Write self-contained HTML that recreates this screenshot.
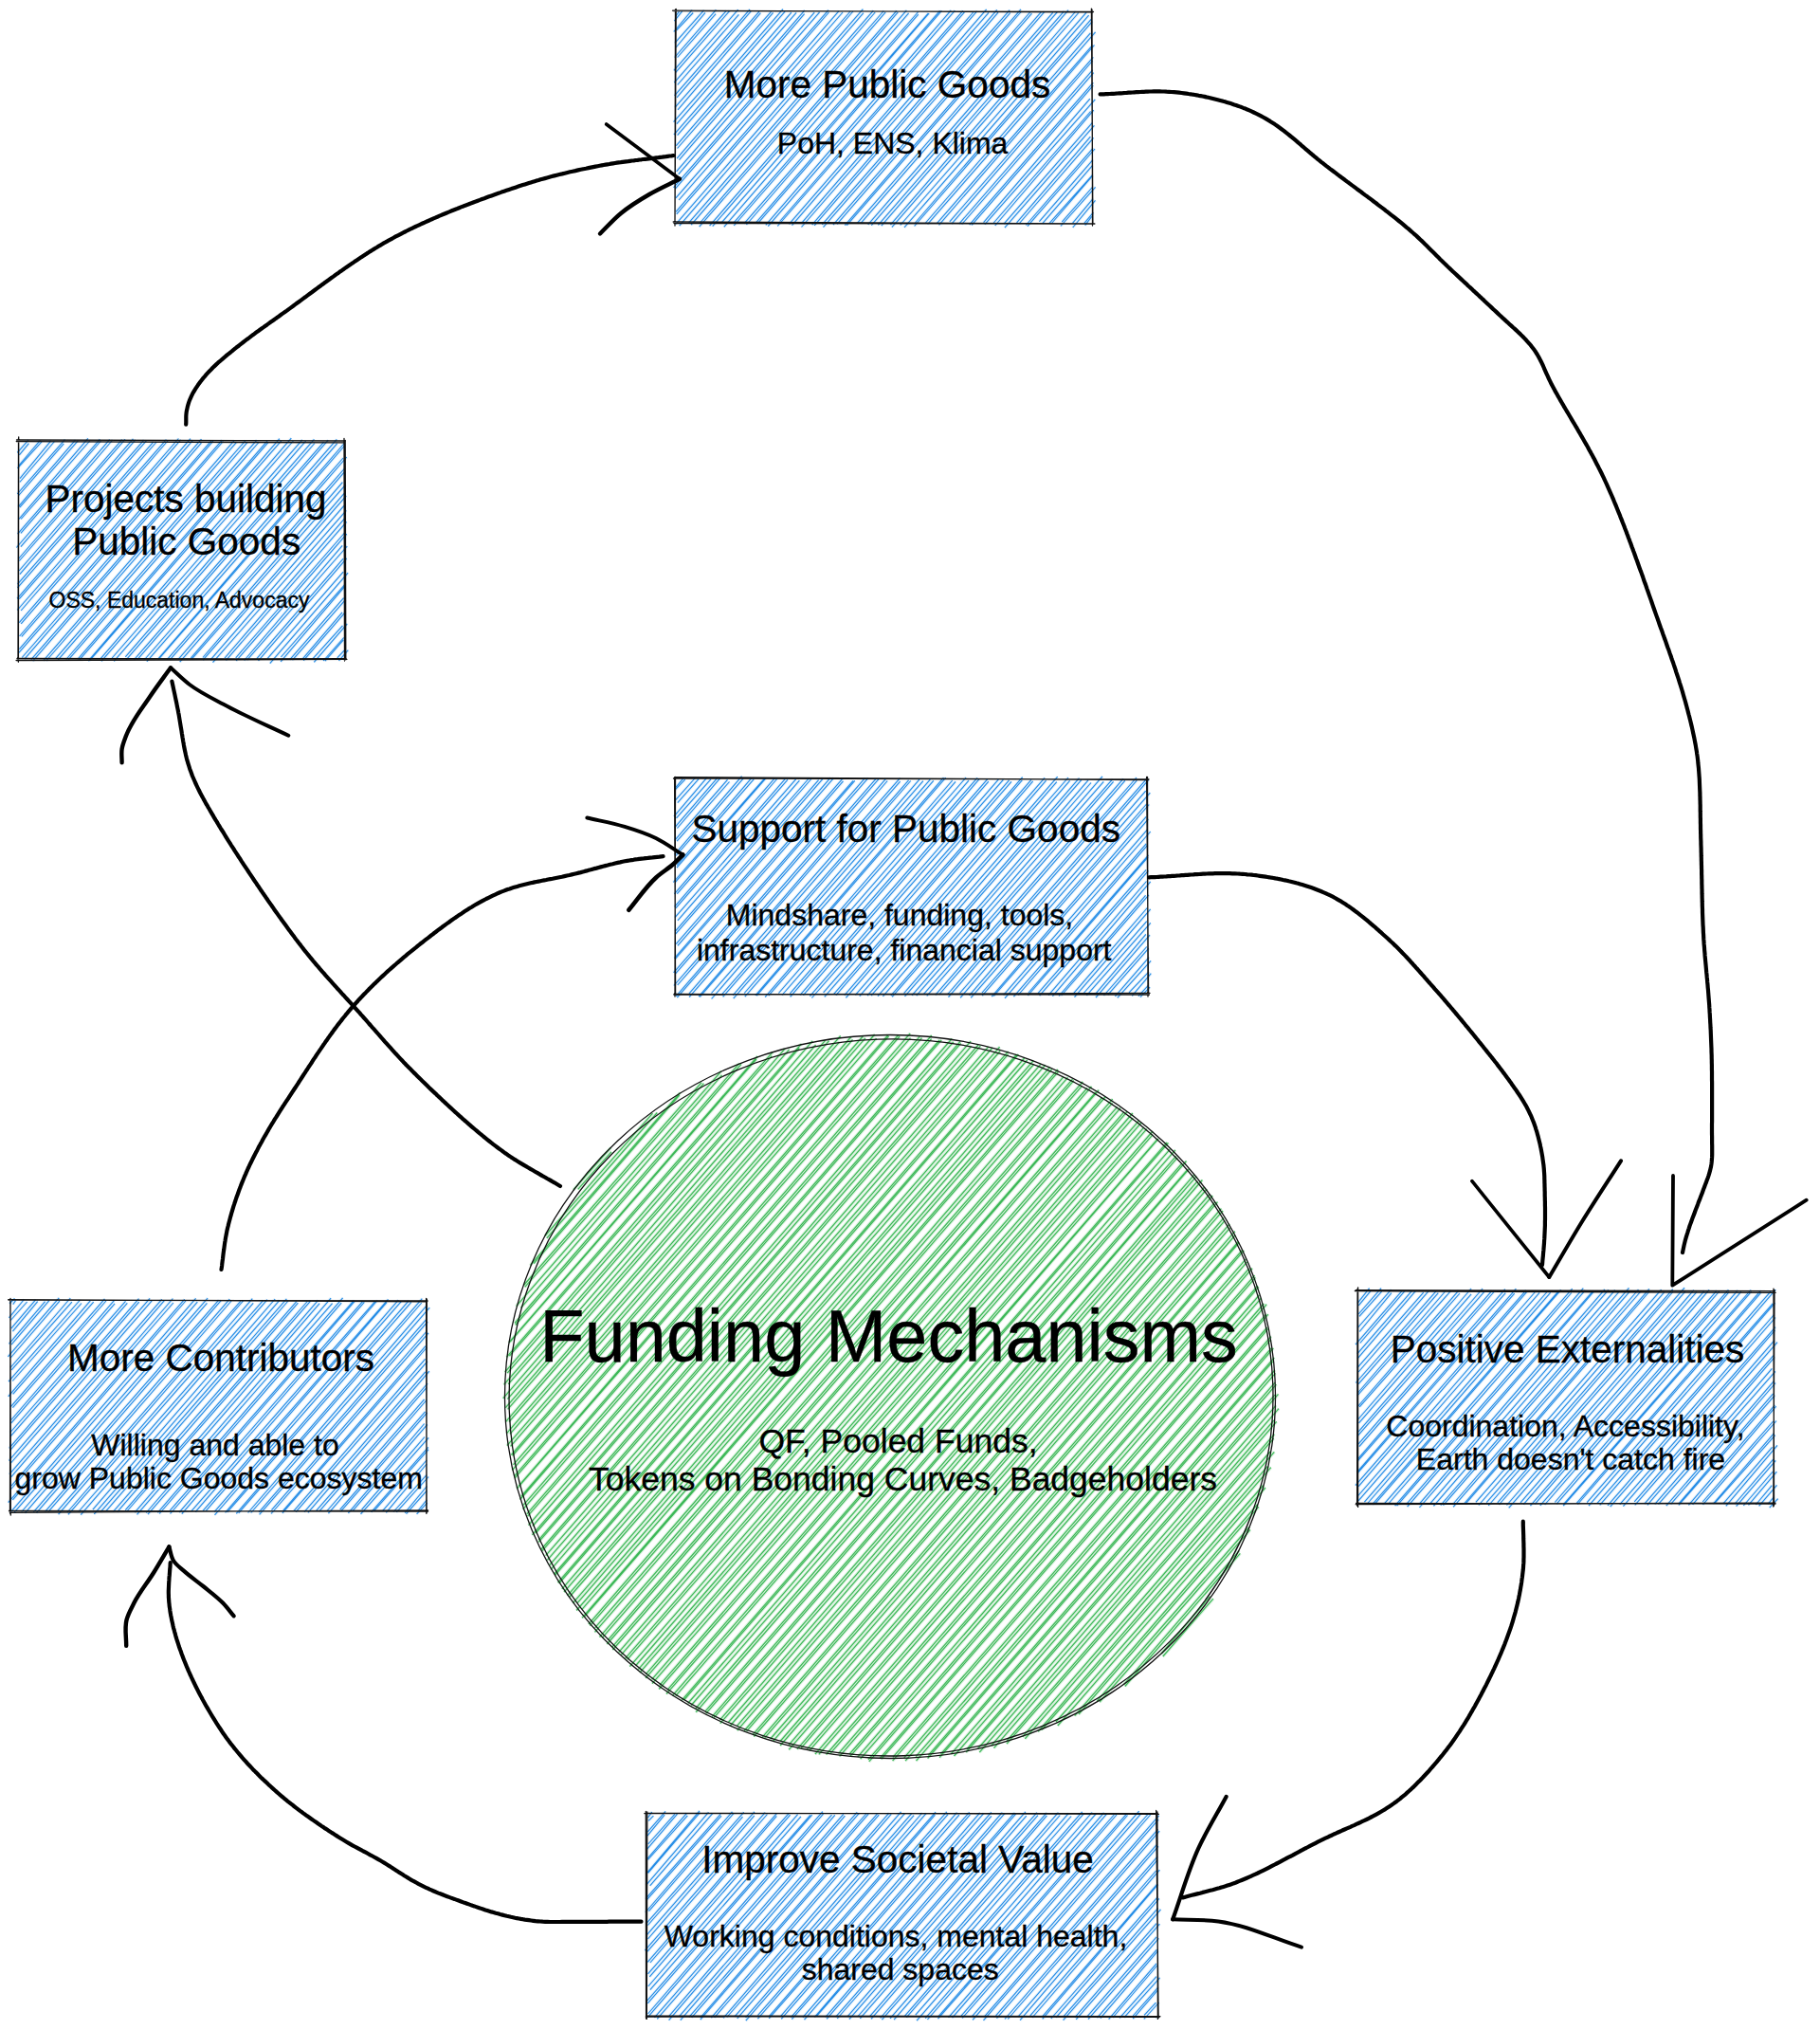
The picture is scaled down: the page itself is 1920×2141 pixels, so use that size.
<!DOCTYPE html><html><head><meta charset="utf-8"><style>html,body{margin:0;padding:0;background:#fff;}svg{display:block}</style></head><body>
<svg width="1920" height="2141" viewBox="0 0 1920 2141">
<rect width="1920" height="2141" fill="#fff"/>
<path fill="none" stroke="#3cb857" stroke-opacity="0.2" stroke-width="3.4" d="M604.9 1254.9L644.4 1210.4M609.7 1254.4L645.0 1214.8M574.9 1303.5L688.5 1174.1M576.8 1305.9L693.3 1173.5M559.4 1334.5L717.5 1152.4M563.1 1332.6L716.9 1154.9M552.5 1355.5L740.1 1141.6M553.7 1357.4L742.4 1142.7M544.6 1377.7L761.0 1129.6M549.5 1379.4L761.6 1133.9M543.0 1395.5L779.8 1121.6M543.7 1397.5L781.9 1122.3M536.9 1416.0L799.2 1114.0M538.2 1415.1L798.0 1117.1M534.4 1431.4L815.3 1109.3M537.4 1430.1L814.2 1113.6M532.7 1447.1L828.0 1106.1M535.2 1448.2L832.6 1106.8M531.6 1460.4L845.5 1100.8M536.2 1459.9L843.2 1105.4M530.7 1474.8L857.2 1097.9M535.4 1475.7L860.6 1102.0M533.4 1484.7L870.6 1097.4M535.6 1486.4L874.6 1097.6M533.7 1499.3L886.7 1092.5M537.0 1499.5L885.6 1098.8M534.4 1511.8L897.9 1093.5M538.0 1512.4L899.5 1096.5M534.9 1524.7L910.3 1093.0M538.6 1525.3L912.9 1094.9M539.4 1534.5L922.7 1091.0M540.6 1535.3L924.6 1095.1M541.5 1544.8L937.1 1091.4M540.3 1550.6L937.6 1092.8M542.6 1556.9L947.5 1091.9M543.1 1558.8L949.1 1093.0M547.2 1567.2L960.2 1089.8M545.2 1570.2L960.5 1094.6M549.9 1578.1L970.2 1093.4M548.6 1581.5L972.5 1094.7M552.2 1587.4L982.8 1092.0M551.7 1591.9L982.6 1095.7M555.8 1596.9L991.1 1097.0M556.6 1599.2L993.2 1096.8M557.5 1608.6L1004.2 1095.5M561.9 1609.5L1005.8 1098.8M561.4 1618.9L1013.1 1098.4M565.1 1617.0L1013.6 1100.4M568.3 1624.1L1024.1 1098.1M568.2 1626.4L1024.7 1103.4M571.1 1634.0L1032.1 1102.0M572.0 1635.6L1034.3 1103.1M575.7 1640.7L1042.7 1104.2M577.4 1645.3L1047.0 1105.0M579.6 1650.8L1054.6 1104.2M581.1 1655.3L1055.1 1108.5M584.8 1660.0L1063.6 1108.9M585.3 1661.6L1063.6 1111.9M588.5 1669.1L1072.4 1112.2M589.7 1670.0L1074.3 1112.0M592.9 1675.9L1080.6 1116.0M595.0 1679.2L1083.7 1118.0M598.6 1682.9L1090.2 1118.7M600.5 1684.5L1090.6 1122.5M604.3 1690.8L1097.9 1122.3M609.1 1690.6L1102.7 1123.1M608.2 1698.5L1107.6 1125.4M614.2 1697.2L1109.8 1127.4M614.0 1706.3L1116.1 1127.8M616.7 1704.8L1116.4 1130.4M620.9 1713.2L1121.8 1135.9M622.4 1714.7L1126.5 1136.3M627.6 1716.9L1131.5 1138.2M627.5 1721.3L1132.8 1139.7M632.5 1726.6L1142.3 1140.9M635.3 1727.3L1141.4 1145.4M641.2 1729.9L1147.0 1147.5M640.4 1734.0L1151.5 1145.9M646.0 1736.8L1156.0 1151.9M646.4 1740.0L1159.2 1149.6M652.7 1742.7L1162.8 1157.5M655.3 1745.3L1165.9 1157.0M659.6 1749.1L1173.7 1159.2M661.7 1750.4L1173.5 1163.3M664.4 1757.7L1178.7 1167.3M670.8 1756.5L1182.0 1168.6M673.4 1760.7L1185.8 1172.8M674.9 1764.2L1189.3 1172.1M681.3 1765.9L1194.9 1174.0M681.1 1769.9L1195.2 1179.2M687.6 1771.3L1201.6 1181.9M688.0 1775.7L1204.2 1183.9M695.7 1777.7L1206.9 1188.9M695.2 1781.5L1209.8 1190.7M704.1 1782.3L1216.1 1193.0M703.0 1786.6L1216.1 1196.7M709.7 1788.1L1221.4 1201.2M712.8 1788.7L1222.0 1201.0M719.2 1793.3L1231.1 1204.9M721.5 1793.0L1232.5 1205.4M725.7 1796.5L1234.3 1212.2M729.2 1798.5L1239.9 1212.8M733.9 1801.8L1240.7 1219.4M734.1 1805.9L1242.2 1220.8M744.3 1804.6L1246.8 1227.2M744.8 1807.1L1251.5 1224.5M751.2 1810.6L1252.3 1234.1M753.1 1811.7L1254.8 1232.4M759.4 1814.1L1260.0 1238.8M759.8 1817.7L1262.2 1240.6M768.4 1816.5L1263.4 1245.6M770.0 1820.5L1268.4 1244.5M777.2 1820.7L1270.3 1252.4M777.7 1825.1L1273.2 1254.1M785.1 1825.5L1276.1 1259.5M787.6 1825.8L1279.2 1261.0M794.1 1829.6L1281.6 1268.2M795.3 1831.5L1284.5 1267.7M804.3 1832.1L1288.4 1274.7M806.7 1832.8L1290.1 1276.8M812.7 1834.0L1291.1 1284.4M815.3 1836.6L1292.1 1287.3M823.1 1836.5L1297.2 1290.8M823.1 1841.0L1297.5 1295.1M832.1 1840.4L1302.8 1298.7M832.2 1845.4L1303.2 1302.5M840.9 1844.8L1306.5 1309.4M845.1 1843.6L1307.2 1310.5M851.5 1844.8L1310.4 1318.6M853.9 1846.4L1312.3 1318.8M859.9 1850.1L1314.4 1327.9M863.8 1850.3L1315.6 1330.9M871.6 1850.5L1317.7 1337.8M876.1 1849.1L1321.1 1337.7M884.6 1849.4L1323.6 1345.2M885.6 1852.4L1324.4 1347.4M896.2 1850.0L1326.8 1356.1M897.1 1852.1L1327.7 1357.3M904.7 1853.2L1328.4 1366.0M907.6 1855.1L1330.7 1368.8M916.0 1855.8L1333.3 1375.0M916.8 1857.9L1336.2 1375.6M928.4 1854.4L1335.5 1386.3M929.6 1855.4L1337.9 1386.2M941.9 1853.4L1336.8 1400.0M941.6 1857.2L1337.7 1401.6M953.8 1853.8L1340.9 1409.6M955.1 1857.2L1340.8 1412.7M966.2 1852.7L1341.2 1421.8M966.5 1857.1L1343.4 1421.9M979.3 1851.4L1344.3 1431.8M978.6 1854.5L1342.7 1435.8M992.6 1849.8L1344.9 1445.0M991.1 1853.6L1345.4 1448.3M1003.2 1849.8L1345.1 1458.1M1006.5 1852.0L1346.4 1460.1M1019.8 1845.0L1344.9 1471.2M1019.1 1848.1L1348.5 1470.4M1031.5 1844.5L1346.0 1482.4M1033.3 1848.1L1349.0 1485.7M1045.7 1841.1L1344.0 1497.8M1048.5 1843.7L1346.7 1499.3M1062.2 1836.0L1344.4 1512.7M1062.0 1839.1L1343.7 1517.0M1078.7 1831.8L1340.0 1531.0M1081.3 1833.8L1344.3 1531.4M1095.0 1826.4L1337.4 1546.3M1098.8 1824.5L1340.8 1547.6M1113.9 1816.0L1332.7 1566.5M1115.8 1820.0L1334.9 1569.0M1133.7 1809.7L1326.7 1586.5M1137.9 1808.0L1327.8 1589.2M1157.3 1794.0L1318.0 1610.5M1160.0 1795.1L1318.9 1613.4M1185.6 1776.6L1307.2 1635.6M1186.8 1778.5L1308.3 1638.3M1225.3 1744.0L1276.5 1683.7M1226.8 1747.0L1279.9 1686.1"/>
<path fill="none" stroke="#3cb857" stroke-width="1.2" d="M604.9 1254.9L644.4 1210.4M609.7 1254.4L645.0 1214.8M574.9 1303.5L688.5 1174.1M576.8 1305.9L693.3 1173.5M559.4 1334.5L717.5 1152.4M563.1 1332.6L716.9 1154.9M552.5 1355.5L740.1 1141.6M553.7 1357.4L742.4 1142.7M544.6 1377.7L761.0 1129.6M549.5 1379.4L761.6 1133.9M543.0 1395.5L779.8 1121.6M543.7 1397.5L781.9 1122.3M536.9 1416.0L799.2 1114.0M538.2 1415.1L798.0 1117.1M534.4 1431.4L815.3 1109.3M537.4 1430.1L814.2 1113.6M532.7 1447.1L828.0 1106.1M535.2 1448.2L832.6 1106.8M531.6 1460.4L845.5 1100.8M536.2 1459.9L843.2 1105.4M530.7 1474.8L857.2 1097.9M535.4 1475.7L860.6 1102.0M533.4 1484.7L870.6 1097.4M535.6 1486.4L874.6 1097.6M533.7 1499.3L886.7 1092.5M537.0 1499.5L885.6 1098.8M534.4 1511.8L897.9 1093.5M538.0 1512.4L899.5 1096.5M534.9 1524.7L910.3 1093.0M538.6 1525.3L912.9 1094.9M539.4 1534.5L922.7 1091.0M540.6 1535.3L924.6 1095.1M541.5 1544.8L937.1 1091.4M540.3 1550.6L937.6 1092.8M542.6 1556.9L947.5 1091.9M543.1 1558.8L949.1 1093.0M547.2 1567.2L960.2 1089.8M545.2 1570.2L960.5 1094.6M549.9 1578.1L970.2 1093.4M548.6 1581.5L972.5 1094.7M552.2 1587.4L982.8 1092.0M551.7 1591.9L982.6 1095.7M555.8 1596.9L991.1 1097.0M556.6 1599.2L993.2 1096.8M557.5 1608.6L1004.2 1095.5M561.9 1609.5L1005.8 1098.8M561.4 1618.9L1013.1 1098.4M565.1 1617.0L1013.6 1100.4M568.3 1624.1L1024.1 1098.1M568.2 1626.4L1024.7 1103.4M571.1 1634.0L1032.1 1102.0M572.0 1635.6L1034.3 1103.1M575.7 1640.7L1042.7 1104.2M577.4 1645.3L1047.0 1105.0M579.6 1650.8L1054.6 1104.2M581.1 1655.3L1055.1 1108.5M584.8 1660.0L1063.6 1108.9M585.3 1661.6L1063.6 1111.9M588.5 1669.1L1072.4 1112.2M589.7 1670.0L1074.3 1112.0M592.9 1675.9L1080.6 1116.0M595.0 1679.2L1083.7 1118.0M598.6 1682.9L1090.2 1118.7M600.5 1684.5L1090.6 1122.5M604.3 1690.8L1097.9 1122.3M609.1 1690.6L1102.7 1123.1M608.2 1698.5L1107.6 1125.4M614.2 1697.2L1109.8 1127.4M614.0 1706.3L1116.1 1127.8M616.7 1704.8L1116.4 1130.4M620.9 1713.2L1121.8 1135.9M622.4 1714.7L1126.5 1136.3M627.6 1716.9L1131.5 1138.2M627.5 1721.3L1132.8 1139.7M632.5 1726.6L1142.3 1140.9M635.3 1727.3L1141.4 1145.4M641.2 1729.9L1147.0 1147.5M640.4 1734.0L1151.5 1145.9M646.0 1736.8L1156.0 1151.9M646.4 1740.0L1159.2 1149.6M652.7 1742.7L1162.8 1157.5M655.3 1745.3L1165.9 1157.0M659.6 1749.1L1173.7 1159.2M661.7 1750.4L1173.5 1163.3M664.4 1757.7L1178.7 1167.3M670.8 1756.5L1182.0 1168.6M673.4 1760.7L1185.8 1172.8M674.9 1764.2L1189.3 1172.1M681.3 1765.9L1194.9 1174.0M681.1 1769.9L1195.2 1179.2M687.6 1771.3L1201.6 1181.9M688.0 1775.7L1204.2 1183.9M695.7 1777.7L1206.9 1188.9M695.2 1781.5L1209.8 1190.7M704.1 1782.3L1216.1 1193.0M703.0 1786.6L1216.1 1196.7M709.7 1788.1L1221.4 1201.2M712.8 1788.7L1222.0 1201.0M719.2 1793.3L1231.1 1204.9M721.5 1793.0L1232.5 1205.4M725.7 1796.5L1234.3 1212.2M729.2 1798.5L1239.9 1212.8M733.9 1801.8L1240.7 1219.4M734.1 1805.9L1242.2 1220.8M744.3 1804.6L1246.8 1227.2M744.8 1807.1L1251.5 1224.5M751.2 1810.6L1252.3 1234.1M753.1 1811.7L1254.8 1232.4M759.4 1814.1L1260.0 1238.8M759.8 1817.7L1262.2 1240.6M768.4 1816.5L1263.4 1245.6M770.0 1820.5L1268.4 1244.5M777.2 1820.7L1270.3 1252.4M777.7 1825.1L1273.2 1254.1M785.1 1825.5L1276.1 1259.5M787.6 1825.8L1279.2 1261.0M794.1 1829.6L1281.6 1268.2M795.3 1831.5L1284.5 1267.7M804.3 1832.1L1288.4 1274.7M806.7 1832.8L1290.1 1276.8M812.7 1834.0L1291.1 1284.4M815.3 1836.6L1292.1 1287.3M823.1 1836.5L1297.2 1290.8M823.1 1841.0L1297.5 1295.1M832.1 1840.4L1302.8 1298.7M832.2 1845.4L1303.2 1302.5M840.9 1844.8L1306.5 1309.4M845.1 1843.6L1307.2 1310.5M851.5 1844.8L1310.4 1318.6M853.9 1846.4L1312.3 1318.8M859.9 1850.1L1314.4 1327.9M863.8 1850.3L1315.6 1330.9M871.6 1850.5L1317.7 1337.8M876.1 1849.1L1321.1 1337.7M884.6 1849.4L1323.6 1345.2M885.6 1852.4L1324.4 1347.4M896.2 1850.0L1326.8 1356.1M897.1 1852.1L1327.7 1357.3M904.7 1853.2L1328.4 1366.0M907.6 1855.1L1330.7 1368.8M916.0 1855.8L1333.3 1375.0M916.8 1857.9L1336.2 1375.6M928.4 1854.4L1335.5 1386.3M929.6 1855.4L1337.9 1386.2M941.9 1853.4L1336.8 1400.0M941.6 1857.2L1337.7 1401.6M953.8 1853.8L1340.9 1409.6M955.1 1857.2L1340.8 1412.7M966.2 1852.7L1341.2 1421.8M966.5 1857.1L1343.4 1421.9M979.3 1851.4L1344.3 1431.8M978.6 1854.5L1342.7 1435.8M992.6 1849.8L1344.9 1445.0M991.1 1853.6L1345.4 1448.3M1003.2 1849.8L1345.1 1458.1M1006.5 1852.0L1346.4 1460.1M1019.8 1845.0L1344.9 1471.2M1019.1 1848.1L1348.5 1470.4M1031.5 1844.5L1346.0 1482.4M1033.3 1848.1L1349.0 1485.7M1045.7 1841.1L1344.0 1497.8M1048.5 1843.7L1346.7 1499.3M1062.2 1836.0L1344.4 1512.7M1062.0 1839.1L1343.7 1517.0M1078.7 1831.8L1340.0 1531.0M1081.3 1833.8L1344.3 1531.4M1095.0 1826.4L1337.4 1546.3M1098.8 1824.5L1340.8 1547.6M1113.9 1816.0L1332.7 1566.5M1115.8 1820.0L1334.9 1569.0M1133.7 1809.7L1326.7 1586.5M1137.9 1808.0L1327.8 1589.2M1157.3 1794.0L1318.0 1610.5M1160.0 1795.1L1318.9 1613.4M1185.6 1776.6L1307.2 1635.6M1186.8 1778.5L1308.3 1638.3M1225.3 1744.0L1276.5 1683.7M1226.8 1747.0L1279.9 1686.1"/>
<g fill="none" stroke="#111" stroke-width="1.3"><ellipse cx="939" cy="1473" rx="406.5" ry="381.5"/><ellipse cx="940" cy="1474" rx="403" ry="378" transform="rotate(-2 939 1473)"/></g>
<path fill="none" stroke="#228be6" stroke-opacity="0.12" stroke-width="3.2" d="M712.9 17.0L716.5 12.2M711.4 22.2L719.6 11.9M710.8 33.5L730.1 10.6M713.7 31.8L731.2 13.5M711.9 45.4L742.6 10.8M713.1 50.0L744.0 13.4M711.7 60.5L755.4 10.4M714.6 60.5L755.1 14.6M710.9 74.4L766.4 11.2M712.8 76.3L769.8 11.4M711.3 87.1L778.7 10.2M714.7 89.5L779.4 15.3M711.6 100.8L791.1 9.8M714.0 102.8L792.2 11.8M712.0 113.4L801.0 12.2M715.0 115.8L802.4 13.7M710.6 128.7L813.5 12.4M713.9 130.7L815.6 13.4M710.9 142.2L826.0 9.7M714.6 142.7L828.1 12.2M713.4 153.7L834.9 13.1M714.5 156.5L840.1 13.3M714.1 167.2L848.9 10.8M716.5 168.7L848.6 14.6M713.6 180.9L859.2 13.2M715.7 183.8L864.6 12.8M710.6 197.9L874.0 10.6M712.3 199.2L874.4 13.0M712.9 208.9L885.0 11.7M716.1 211.0L889.0 13.0M713.1 223.3L897.1 12.0M713.7 225.8L899.9 12.0M713.0 236.3L910.4 9.7M716.7 238.1L910.9 13.7M726.3 235.4L921.4 11.1M729.1 237.2L923.2 13.0M738.1 235.5L932.3 11.5M737.7 239.2L934.2 12.9M748.6 238.1L945.9 11.3M751.7 238.7L947.3 12.9M760.7 235.3L956.4 10.9M763.8 239.3L958.6 13.9M773.9 235.1L968.7 12.5M774.2 238.0L968.8 15.2M784.9 235.9L979.2 14.1M787.4 237.0L980.2 14.0M797.5 234.9L991.6 11.4M799.2 235.9L993.4 11.3M807.8 237.4L1003.3 10.9M810.2 238.6L1007.4 11.1M822.6 233.5L1015.9 11.3M820.2 238.5L1017.4 12.8M832.4 236.4L1026.7 13.0M835.5 237.7L1030.6 11.8M846.0 234.9L1040.7 9.9M845.5 239.5L1043.0 13.3M856.7 237.2L1051.8 10.3M859.1 237.8L1053.0 13.2M867.3 236.8L1065.2 10.6M868.5 239.6L1065.7 13.6M878.9 237.1L1077.0 9.8M883.0 236.4L1077.1 12.5M891.3 237.7L1087.0 12.5M893.3 237.6L1088.5 14.2M904.1 235.7L1098.4 12.7M907.9 235.6L1101.9 12.4M915.7 236.9L1110.7 13.3M919.3 237.7L1115.2 12.8M926.4 237.3L1122.5 11.8M929.8 238.2L1127.1 10.6M939.4 237.1L1134.8 12.0M940.9 239.6L1137.8 13.5M949.7 237.5L1146.1 13.2M954.0 239.9L1148.6 16.2M965.5 235.0L1151.1 20.3M964.6 238.5L1152.3 22.6M976.5 235.0L1150.4 34.8M978.6 236.4L1155.6 33.9M988.6 235.3L1152.4 47.8M990.5 237.3L1154.5 47.5M1001.8 233.8L1153.3 60.3M1003.9 236.1L1152.6 64.0M1011.8 236.1L1152.6 73.8M1014.7 236.5L1153.7 76.6M1022.7 237.2L1153.3 87.1M1025.1 237.3L1153.3 90.1M1037.6 234.7L1149.9 104.2M1038.9 236.7L1155.3 104.8M1048.3 235.0L1150.6 117.5M1049.7 238.0L1153.8 116.2M1059.0 236.2L1152.2 129.6M1059.9 240.2L1154.4 132.3M1072.6 234.9L1150.4 144.1M1075.0 236.0L1153.6 145.3M1082.3 237.5L1153.0 156.4M1083.9 238.7L1155.0 157.0M1096.4 233.7L1152.9 168.6M1099.6 235.9L1152.4 174.6M1106.9 235.7L1152.7 184.3M1109.5 235.5L1152.8 185.2M1120.3 234.1L1152.4 197.5M1118.9 238.5L1155.6 197.3M1131.5 235.3L1153.0 209.6M1131.7 240.0L1155.5 211.3M1143.7 235.7L1153.4 224.2M1144.7 237.7L1151.7 228.3"/>
<path fill="none" stroke="#228be6" stroke-width="1.1" d="M712.9 17.0L716.5 12.2M711.4 22.2L719.6 11.9M710.8 33.5L730.1 10.6M713.7 31.8L731.2 13.5M711.9 45.4L742.6 10.8M713.1 50.0L744.0 13.4M711.7 60.5L755.4 10.4M714.6 60.5L755.1 14.6M710.9 74.4L766.4 11.2M712.8 76.3L769.8 11.4M711.3 87.1L778.7 10.2M714.7 89.5L779.4 15.3M711.6 100.8L791.1 9.8M714.0 102.8L792.2 11.8M712.0 113.4L801.0 12.2M715.0 115.8L802.4 13.7M710.6 128.7L813.5 12.4M713.9 130.7L815.6 13.4M710.9 142.2L826.0 9.7M714.6 142.7L828.1 12.2M713.4 153.7L834.9 13.1M714.5 156.5L840.1 13.3M714.1 167.2L848.9 10.8M716.5 168.7L848.6 14.6M713.6 180.9L859.2 13.2M715.7 183.8L864.6 12.8M710.6 197.9L874.0 10.6M712.3 199.2L874.4 13.0M712.9 208.9L885.0 11.7M716.1 211.0L889.0 13.0M713.1 223.3L897.1 12.0M713.7 225.8L899.9 12.0M713.0 236.3L910.4 9.7M716.7 238.1L910.9 13.7M726.3 235.4L921.4 11.1M729.1 237.2L923.2 13.0M738.1 235.5L932.3 11.5M737.7 239.2L934.2 12.9M748.6 238.1L945.9 11.3M751.7 238.7L947.3 12.9M760.7 235.3L956.4 10.9M763.8 239.3L958.6 13.9M773.9 235.1L968.7 12.5M774.2 238.0L968.8 15.2M784.9 235.9L979.2 14.1M787.4 237.0L980.2 14.0M797.5 234.9L991.6 11.4M799.2 235.9L993.4 11.3M807.8 237.4L1003.3 10.9M810.2 238.6L1007.4 11.1M822.6 233.5L1015.9 11.3M820.2 238.5L1017.4 12.8M832.4 236.4L1026.7 13.0M835.5 237.7L1030.6 11.8M846.0 234.9L1040.7 9.9M845.5 239.5L1043.0 13.3M856.7 237.2L1051.8 10.3M859.1 237.8L1053.0 13.2M867.3 236.8L1065.2 10.6M868.5 239.6L1065.7 13.6M878.9 237.1L1077.0 9.8M883.0 236.4L1077.1 12.5M891.3 237.7L1087.0 12.5M893.3 237.6L1088.5 14.2M904.1 235.7L1098.4 12.7M907.9 235.6L1101.9 12.4M915.7 236.9L1110.7 13.3M919.3 237.7L1115.2 12.8M926.4 237.3L1122.5 11.8M929.8 238.2L1127.1 10.6M939.4 237.1L1134.8 12.0M940.9 239.6L1137.8 13.5M949.7 237.5L1146.1 13.2M954.0 239.9L1148.6 16.2M965.5 235.0L1151.1 20.3M964.6 238.5L1152.3 22.6M976.5 235.0L1150.4 34.8M978.6 236.4L1155.6 33.9M988.6 235.3L1152.4 47.8M990.5 237.3L1154.5 47.5M1001.8 233.8L1153.3 60.3M1003.9 236.1L1152.6 64.0M1011.8 236.1L1152.6 73.8M1014.7 236.5L1153.7 76.6M1022.7 237.2L1153.3 87.1M1025.1 237.3L1153.3 90.1M1037.6 234.7L1149.9 104.2M1038.9 236.7L1155.3 104.8M1048.3 235.0L1150.6 117.5M1049.7 238.0L1153.8 116.2M1059.0 236.2L1152.2 129.6M1059.9 240.2L1154.4 132.3M1072.6 234.9L1150.4 144.1M1075.0 236.0L1153.6 145.3M1082.3 237.5L1153.0 156.4M1083.9 238.7L1155.0 157.0M1096.4 233.7L1152.9 168.6M1099.6 235.9L1152.4 174.6M1106.9 235.7L1152.7 184.3M1109.5 235.5L1152.8 185.2M1120.3 234.1L1152.4 197.5M1118.9 238.5L1155.6 197.3M1131.5 235.3L1153.0 209.6M1131.7 240.0L1155.5 211.3M1143.7 235.7L1153.4 224.2M1144.7 237.7L1151.7 228.3"/>
<path fill="none" stroke="#228be6" stroke-opacity="0.12" stroke-width="3.2" d="M18.3 477.3L30.0 464.1M20.4 479.8L30.4 467.6M19.8 491.0L42.5 464.3M18.5 493.9L44.0 465.9M21.0 504.6L53.8 464.8M20.8 508.5L57.5 465.5M18.2 521.0L68.5 463.7M19.7 522.5L67.3 467.9M19.2 534.6L79.5 464.1M20.8 535.1L82.4 464.7M20.1 547.3L92.9 462.4M22.1 547.5L94.7 465.0M18.6 563.1L105.4 463.4M21.9 562.4L106.4 465.0M17.4 577.5L115.7 463.7M21.9 576.7L118.8 464.0M19.4 589.5L128.8 463.7M20.3 591.5L132.0 463.3M20.1 602.0L140.5 462.8M20.9 605.7L142.9 463.8M18.5 616.1L151.9 464.1M18.5 619.9L154.4 464.8M18.1 631.3L161.8 466.1M20.3 631.7L165.2 466.0M18.2 643.5L175.4 463.7M22.1 644.0L177.3 464.5M20.3 656.6L188.4 462.5M22.2 657.8L190.7 463.8M20.6 671.0L201.0 462.7M22.8 671.4L203.5 464.4M20.4 684.6L212.5 463.2M19.9 688.4L212.4 467.2M23.2 693.5L223.0 464.9M25.8 695.2L224.9 465.1M32.9 695.7L234.4 464.1M34.7 697.2L235.4 465.5M45.7 696.8L246.9 464.9M48.7 697.0L249.8 466.1M58.8 694.3L258.8 464.8M61.3 695.9L261.3 466.2M69.8 695.5L271.0 464.1M72.3 695.6L273.4 466.0M81.9 695.4L281.9 465.2M83.8 695.9L283.3 466.1M93.1 697.1L294.9 462.6M94.4 696.8L296.8 464.9M106.4 694.3L307.3 462.1M106.9 697.4L309.4 465.0M118.2 694.0L318.9 463.9M120.2 697.3L322.6 465.1M132.3 692.8L331.4 463.3M133.3 695.7L331.9 467.5M141.4 695.8L341.7 466.1M144.9 695.7L346.2 464.2M152.6 695.5L355.3 463.4M154.9 697.7L355.8 467.7M167.3 694.3L363.2 467.5M167.2 695.4L363.6 470.0M176.3 695.7L362.1 483.0M179.2 695.9L365.8 482.0M188.1 695.4L364.0 493.5M189.7 698.1L363.7 497.4M201.3 694.1L361.4 508.6M202.0 695.4L364.7 511.1M214.0 693.5L363.1 520.3M214.1 696.2L365.3 522.9M221.9 696.2L362.9 533.4M224.5 698.6L365.3 538.3M237.0 694.1L363.7 546.6M238.5 696.3L365.6 550.4M248.7 693.8L363.5 562.0M249.1 697.0L365.8 563.2M257.7 696.5L361.2 575.3M260.6 696.1L366.3 576.0M270.9 694.7L362.2 589.1M272.5 696.8L365.7 588.9M282.1 694.6L362.2 603.2M284.8 699.6L367.1 604.1M296.4 693.0L363.7 616.6M296.1 697.9L363.6 618.6M305.6 695.9L362.6 630.7M308.5 696.2L364.6 632.4M319.3 694.8L361.1 645.8M320.2 696.6L364.3 645.6M330.1 694.7L361.5 659.8M331.3 698.4L366.3 657.8M341.1 697.0L362.7 672.5M342.9 697.2L362.3 674.8M355.8 693.8L363.0 686.2M357.5 696.9L367.3 685.7"/>
<path fill="none" stroke="#228be6" stroke-width="1.1" d="M18.3 477.3L30.0 464.1M20.4 479.8L30.4 467.6M19.8 491.0L42.5 464.3M18.5 493.9L44.0 465.9M21.0 504.6L53.8 464.8M20.8 508.5L57.5 465.5M18.2 521.0L68.5 463.7M19.7 522.5L67.3 467.9M19.2 534.6L79.5 464.1M20.8 535.1L82.4 464.7M20.1 547.3L92.9 462.4M22.1 547.5L94.7 465.0M18.6 563.1L105.4 463.4M21.9 562.4L106.4 465.0M17.4 577.5L115.7 463.7M21.9 576.7L118.8 464.0M19.4 589.5L128.8 463.7M20.3 591.5L132.0 463.3M20.1 602.0L140.5 462.8M20.9 605.7L142.9 463.8M18.5 616.1L151.9 464.1M18.5 619.9L154.4 464.8M18.1 631.3L161.8 466.1M20.3 631.7L165.2 466.0M18.2 643.5L175.4 463.7M22.1 644.0L177.3 464.5M20.3 656.6L188.4 462.5M22.2 657.8L190.7 463.8M20.6 671.0L201.0 462.7M22.8 671.4L203.5 464.4M20.4 684.6L212.5 463.2M19.9 688.4L212.4 467.2M23.2 693.5L223.0 464.9M25.8 695.2L224.9 465.1M32.9 695.7L234.4 464.1M34.7 697.2L235.4 465.5M45.7 696.8L246.9 464.9M48.7 697.0L249.8 466.1M58.8 694.3L258.8 464.8M61.3 695.9L261.3 466.2M69.8 695.5L271.0 464.1M72.3 695.6L273.4 466.0M81.9 695.4L281.9 465.2M83.8 695.9L283.3 466.1M93.1 697.1L294.9 462.6M94.4 696.8L296.8 464.9M106.4 694.3L307.3 462.1M106.9 697.4L309.4 465.0M118.2 694.0L318.9 463.9M120.2 697.3L322.6 465.1M132.3 692.8L331.4 463.3M133.3 695.7L331.9 467.5M141.4 695.8L341.7 466.1M144.9 695.7L346.2 464.2M152.6 695.5L355.3 463.4M154.9 697.7L355.8 467.7M167.3 694.3L363.2 467.5M167.2 695.4L363.6 470.0M176.3 695.7L362.1 483.0M179.2 695.9L365.8 482.0M188.1 695.4L364.0 493.5M189.7 698.1L363.7 497.4M201.3 694.1L361.4 508.6M202.0 695.4L364.7 511.1M214.0 693.5L363.1 520.3M214.1 696.2L365.3 522.9M221.9 696.2L362.9 533.4M224.5 698.6L365.3 538.3M237.0 694.1L363.7 546.6M238.5 696.3L365.6 550.4M248.7 693.8L363.5 562.0M249.1 697.0L365.8 563.2M257.7 696.5L361.2 575.3M260.6 696.1L366.3 576.0M270.9 694.7L362.2 589.1M272.5 696.8L365.7 588.9M282.1 694.6L362.2 603.2M284.8 699.6L367.1 604.1M296.4 693.0L363.7 616.6M296.1 697.9L363.6 618.6M305.6 695.9L362.6 630.7M308.5 696.2L364.6 632.4M319.3 694.8L361.1 645.8M320.2 696.6L364.3 645.6M330.1 694.7L361.5 659.8M331.3 698.4L366.3 657.8M341.1 697.0L362.7 672.5M342.9 697.2L362.3 674.8M355.8 693.8L363.0 686.2M357.5 696.9L367.3 685.7"/>
<path fill="none" stroke="#228be6" stroke-opacity="0.12" stroke-width="3.2" d="M713.0 830.4L720.5 821.3M712.3 832.9L722.7 822.1M712.8 843.7L733.8 820.0M714.8 846.7L737.0 821.6M711.0 861.2L746.2 819.6M713.5 862.8L749.9 821.8M711.7 872.9L757.3 819.8M714.4 873.5L760.0 820.3M711.7 886.4L767.5 822.3M714.1 887.1L769.5 824.5M711.6 901.3L782.6 818.7M713.1 902.5L784.1 821.1M714.1 912.7L793.0 820.3M713.9 915.1L795.2 821.8M710.3 930.5L806.9 820.6M712.2 930.6L807.9 820.9M711.4 942.8L817.2 820.9M714.3 942.7L819.7 821.5M711.6 956.3L828.2 821.6M712.8 957.8L830.9 822.3M712.0 967.7L839.6 821.9M714.9 970.8L843.4 823.2M712.2 982.4L853.7 820.5M712.8 984.9L855.9 821.5M713.2 995.7L863.6 822.6M714.9 997.4L867.8 821.7M711.5 1010.7L876.2 820.2M712.3 1011.5L879.7 820.4M710.6 1025.9L889.2 820.9M712.8 1026.7L889.5 823.9M710.9 1039.5L900.1 823.4M714.7 1039.0L901.8 823.4M713.1 1050.8L912.5 820.6M714.3 1052.1L915.8 820.6M727.0 1047.8L924.3 821.2M727.1 1051.6L927.0 821.7M737.1 1051.2L934.5 821.4M738.3 1051.5L936.2 823.5M750.5 1047.5L949.5 820.7M750.6 1053.5L949.6 824.2M761.9 1048.4L958.6 822.8M762.6 1051.4L960.7 823.5M773.3 1049.7L969.9 822.1M773.7 1053.1L973.9 823.7M785.2 1047.5L981.3 822.2M785.8 1051.2L984.8 823.3M796.9 1049.8L995.5 820.1M798.2 1050.1L997.7 820.2M807.1 1051.6L1004.8 823.0M810.7 1050.2L1008.1 824.4M821.4 1047.5L1019.1 820.0M825.0 1049.5L1022.0 823.2M833.4 1047.8L1031.1 820.3M833.6 1051.4L1033.1 821.7M844.1 1049.4L1041.6 821.9M847.4 1049.7L1042.9 824.1M854.4 1050.7L1053.3 822.2M856.4 1052.5L1058.4 822.3M868.6 1046.9L1064.6 822.8M869.8 1051.4L1067.0 824.3M879.7 1048.4L1078.7 819.7M881.9 1049.6L1078.3 822.8M890.9 1049.6L1088.0 822.4M892.4 1052.3L1089.7 823.9M902.4 1049.4L1102.1 820.3M906.8 1050.7L1103.6 823.2M915.0 1050.1L1115.7 819.2M919.0 1050.1L1114.8 824.6M926.0 1050.7L1127.0 820.0M931.4 1050.8L1128.6 823.3M939.8 1050.1L1138.5 820.6M941.1 1051.4L1141.0 822.3M953.6 1047.6L1148.0 822.8M954.5 1050.8L1151.0 825.5M962.0 1049.9L1163.0 818.8M966.7 1050.1L1164.3 824.3M974.3 1048.7L1173.6 821.8M977.7 1050.3L1174.6 824.3M986.8 1049.4L1185.0 821.4M990.7 1049.0L1186.8 823.3M999.8 1048.5L1199.0 820.0M1000.5 1051.7L1199.3 823.1M1012.5 1047.5L1210.6 820.3M1013.1 1052.3L1211.7 822.4M1022.6 1049.8L1208.7 834.1M1024.2 1052.4L1213.3 836.1M1036.0 1047.0L1209.6 848.0M1036.1 1050.2L1212.2 848.5M1046.3 1051.1L1209.2 861.4M1048.4 1050.5L1211.4 863.8M1058.7 1049.3L1210.5 874.8M1060.0 1052.8L1213.7 877.0M1069.4 1051.2L1209.3 889.9M1074.1 1049.5L1210.8 891.2M1085.0 1047.0L1211.5 901.9M1084.3 1050.0L1211.2 903.9M1095.0 1047.6L1209.2 917.4M1096.6 1050.1L1211.4 918.3M1106.1 1049.6L1209.5 929.5M1110.4 1050.6L1213.7 929.8M1117.1 1050.5L1208.6 944.4M1119.6 1050.0L1211.9 943.9M1132.6 1047.6L1210.3 957.5M1133.5 1051.6L1213.7 958.9M1143.2 1047.5L1209.8 971.7M1146.3 1049.8L1213.8 973.4M1155.8 1048.1L1208.9 985.4M1156.0 1052.1L1213.0 986.1M1164.4 1050.0L1209.8 998.5M1168.8 1049.2L1211.8 1000.1M1176.4 1050.8L1212.1 1009.7M1178.8 1052.4L1214.1 1013.3M1191.0 1046.9L1212.0 1024.8M1194.2 1050.3L1214.3 1026.7M1200.9 1050.7L1211.3 1039.4M1202.9 1051.7L1213.1 1041.1"/>
<path fill="none" stroke="#228be6" stroke-width="1.1" d="M713.0 830.4L720.5 821.3M712.3 832.9L722.7 822.1M712.8 843.7L733.8 820.0M714.8 846.7L737.0 821.6M711.0 861.2L746.2 819.6M713.5 862.8L749.9 821.8M711.7 872.9L757.3 819.8M714.4 873.5L760.0 820.3M711.7 886.4L767.5 822.3M714.1 887.1L769.5 824.5M711.6 901.3L782.6 818.7M713.1 902.5L784.1 821.1M714.1 912.7L793.0 820.3M713.9 915.1L795.2 821.8M710.3 930.5L806.9 820.6M712.2 930.6L807.9 820.9M711.4 942.8L817.2 820.9M714.3 942.7L819.7 821.5M711.6 956.3L828.2 821.6M712.8 957.8L830.9 822.3M712.0 967.7L839.6 821.9M714.9 970.8L843.4 823.2M712.2 982.4L853.7 820.5M712.8 984.9L855.9 821.5M713.2 995.7L863.6 822.6M714.9 997.4L867.8 821.7M711.5 1010.7L876.2 820.2M712.3 1011.5L879.7 820.4M710.6 1025.9L889.2 820.9M712.8 1026.7L889.5 823.9M710.9 1039.5L900.1 823.4M714.7 1039.0L901.8 823.4M713.1 1050.8L912.5 820.6M714.3 1052.1L915.8 820.6M727.0 1047.8L924.3 821.2M727.1 1051.6L927.0 821.7M737.1 1051.2L934.5 821.4M738.3 1051.5L936.2 823.5M750.5 1047.5L949.5 820.7M750.6 1053.5L949.6 824.2M761.9 1048.4L958.6 822.8M762.6 1051.4L960.7 823.5M773.3 1049.7L969.9 822.1M773.7 1053.1L973.9 823.7M785.2 1047.5L981.3 822.2M785.8 1051.2L984.8 823.3M796.9 1049.8L995.5 820.1M798.2 1050.1L997.7 820.2M807.1 1051.6L1004.8 823.0M810.7 1050.2L1008.1 824.4M821.4 1047.5L1019.1 820.0M825.0 1049.5L1022.0 823.2M833.4 1047.8L1031.1 820.3M833.6 1051.4L1033.1 821.7M844.1 1049.4L1041.6 821.9M847.4 1049.7L1042.9 824.1M854.4 1050.7L1053.3 822.2M856.4 1052.5L1058.4 822.3M868.6 1046.9L1064.6 822.8M869.8 1051.4L1067.0 824.3M879.7 1048.4L1078.7 819.7M881.9 1049.6L1078.3 822.8M890.9 1049.6L1088.0 822.4M892.4 1052.3L1089.7 823.9M902.4 1049.4L1102.1 820.3M906.8 1050.7L1103.6 823.2M915.0 1050.1L1115.7 819.2M919.0 1050.1L1114.8 824.6M926.0 1050.7L1127.0 820.0M931.4 1050.8L1128.6 823.3M939.8 1050.1L1138.5 820.6M941.1 1051.4L1141.0 822.3M953.6 1047.6L1148.0 822.8M954.5 1050.8L1151.0 825.5M962.0 1049.9L1163.0 818.8M966.7 1050.1L1164.3 824.3M974.3 1048.7L1173.6 821.8M977.7 1050.3L1174.6 824.3M986.8 1049.4L1185.0 821.4M990.7 1049.0L1186.8 823.3M999.8 1048.5L1199.0 820.0M1000.5 1051.7L1199.3 823.1M1012.5 1047.5L1210.6 820.3M1013.1 1052.3L1211.7 822.4M1022.6 1049.8L1208.7 834.1M1024.2 1052.4L1213.3 836.1M1036.0 1047.0L1209.6 848.0M1036.1 1050.2L1212.2 848.5M1046.3 1051.1L1209.2 861.4M1048.4 1050.5L1211.4 863.8M1058.7 1049.3L1210.5 874.8M1060.0 1052.8L1213.7 877.0M1069.4 1051.2L1209.3 889.9M1074.1 1049.5L1210.8 891.2M1085.0 1047.0L1211.5 901.9M1084.3 1050.0L1211.2 903.9M1095.0 1047.6L1209.2 917.4M1096.6 1050.1L1211.4 918.3M1106.1 1049.6L1209.5 929.5M1110.4 1050.6L1213.7 929.8M1117.1 1050.5L1208.6 944.4M1119.6 1050.0L1211.9 943.9M1132.6 1047.6L1210.3 957.5M1133.5 1051.6L1213.7 958.9M1143.2 1047.5L1209.8 971.7M1146.3 1049.8L1213.8 973.4M1155.8 1048.1L1208.9 985.4M1156.0 1052.1L1213.0 986.1M1164.4 1050.0L1209.8 998.5M1168.8 1049.2L1211.8 1000.1M1176.4 1050.8L1212.1 1009.7M1178.8 1052.4L1214.1 1013.3M1191.0 1046.9L1212.0 1024.8M1194.2 1050.3L1214.3 1026.7M1200.9 1050.7L1211.3 1039.4M1202.9 1051.7L1213.1 1041.1"/>
<path fill="none" stroke="#228be6" stroke-opacity="0.12" stroke-width="3.2" d="M10.0 1374.9L15.5 1369.5M13.7 1375.7L16.5 1371.6M9.5 1389.9L25.4 1370.5M11.2 1392.5L28.6 1373.0M11.8 1401.1L37.6 1370.8M13.4 1404.1L39.7 1372.6M9.5 1417.4L47.6 1372.6M12.0 1418.1L51.9 1371.6M8.4 1430.8L62.3 1368.8M11.2 1432.0L62.9 1372.2M11.0 1442.5L74.3 1369.0M12.1 1444.9L75.9 1373.1M9.0 1457.2L84.5 1371.0M13.2 1456.5L86.0 1374.5M8.7 1472.8L95.3 1371.9M13.6 1470.3L98.7 1373.2M11.4 1483.7L110.5 1369.9M13.4 1484.6L111.9 1372.0M11.9 1497.5L120.4 1371.7M11.8 1500.9L121.1 1374.9M10.6 1511.0L132.5 1372.3M11.1 1514.9L134.3 1374.3M9.7 1527.4L146.5 1369.7M10.9 1529.3L146.7 1373.2M9.4 1540.5L158.1 1369.3M11.5 1543.0L160.2 1371.8M9.9 1554.8L170.8 1370.3M11.6 1557.8L173.2 1371.9M12.0 1567.2L182.4 1369.5M11.2 1571.0L182.9 1374.0M8.7 1584.6L194.7 1370.4M13.4 1581.9L195.9 1372.0M11.4 1594.7L206.6 1369.4M15.2 1594.9L208.3 1373.1M22.7 1594.5L219.1 1369.1M26.3 1595.8L218.4 1374.3M35.4 1594.6L230.8 1371.2M38.4 1595.6L233.4 1371.4M47.5 1594.4L242.3 1370.1M51.0 1594.3L244.1 1372.0M61.0 1593.2L253.8 1372.3M61.6 1597.2L256.7 1371.7M71.0 1595.0L266.3 1369.6M71.9 1597.3L267.2 1374.3M82.7 1594.5L277.5 1371.6M85.2 1597.6L282.0 1370.6M97.9 1592.1L290.2 1370.0M99.3 1596.9L294.9 1371.4M106.3 1594.4L302.4 1369.8M111.9 1593.7L304.0 1372.0M119.4 1594.3L312.9 1372.6M123.7 1594.6L314.4 1374.1M132.3 1592.7L324.3 1372.5M133.8 1594.0L327.6 1372.1M142.2 1595.1L335.6 1371.4M144.5 1597.4L337.2 1374.7M154.2 1595.5L349.1 1369.1M155.9 1597.1L350.6 1374.6M166.4 1595.3L361.6 1368.8M168.1 1596.5L360.2 1374.2M179.3 1593.2L373.3 1371.6M179.5 1596.5L374.4 1372.1M189.0 1595.2L382.8 1372.4M191.8 1596.6L384.3 1373.4M201.8 1593.9L396.1 1372.2M206.1 1594.6L398.2 1371.5M214.1 1593.4L409.5 1370.4M217.1 1593.7L408.0 1373.6M226.3 1594.3L420.3 1371.1M226.5 1597.8L423.5 1372.3M237.6 1595.3L431.2 1371.8M239.7 1594.9L433.9 1373.4M249.3 1596.4L445.3 1369.6M251.7 1595.8L444.8 1374.0M261.6 1595.5L450.6 1376.3M264.7 1595.5L453.2 1379.1M273.2 1594.8L449.9 1391.3M273.6 1597.4L451.2 1393.9M286.5 1592.6L450.2 1404.0M286.0 1596.5L452.0 1405.9M298.8 1593.1L449.0 1419.7M297.9 1595.9L450.4 1421.0M310.1 1593.4L448.6 1433.3M312.1 1594.7L451.0 1435.7M321.0 1594.6L448.8 1446.9M324.9 1595.4L452.9 1446.2M333.8 1593.1L451.1 1459.0M336.9 1593.9L450.1 1463.3M345.0 1593.5L447.6 1475.9M346.4 1596.1L450.1 1476.5M358.7 1592.2L448.6 1488.8M359.4 1594.1L450.6 1489.9M367.4 1595.9L447.7 1501.5M371.9 1593.6L450.8 1502.3M381.6 1592.2L448.0 1515.5M380.5 1596.9L452.2 1516.3M391.6 1594.8L451.8 1526.3M394.5 1593.6L452.1 1528.7M403.3 1593.8L450.1 1540.0M407.3 1595.4L450.1 1544.0M415.1 1594.5L450.0 1555.7M418.2 1594.9L452.1 1557.5M427.1 1595.6L450.3 1567.5M428.5 1596.7L450.3 1572.1M440.8 1593.5L450.3 1581.9M439.6 1596.9L450.8 1584.8"/>
<path fill="none" stroke="#228be6" stroke-width="1.1" d="M10.0 1374.9L15.5 1369.5M13.7 1375.7L16.5 1371.6M9.5 1389.9L25.4 1370.5M11.2 1392.5L28.6 1373.0M11.8 1401.1L37.6 1370.8M13.4 1404.1L39.7 1372.6M9.5 1417.4L47.6 1372.6M12.0 1418.1L51.9 1371.6M8.4 1430.8L62.3 1368.8M11.2 1432.0L62.9 1372.2M11.0 1442.5L74.3 1369.0M12.1 1444.9L75.9 1373.1M9.0 1457.2L84.5 1371.0M13.2 1456.5L86.0 1374.5M8.7 1472.8L95.3 1371.9M13.6 1470.3L98.7 1373.2M11.4 1483.7L110.5 1369.9M13.4 1484.6L111.9 1372.0M11.9 1497.5L120.4 1371.7M11.8 1500.9L121.1 1374.9M10.6 1511.0L132.5 1372.3M11.1 1514.9L134.3 1374.3M9.7 1527.4L146.5 1369.7M10.9 1529.3L146.7 1373.2M9.4 1540.5L158.1 1369.3M11.5 1543.0L160.2 1371.8M9.9 1554.8L170.8 1370.3M11.6 1557.8L173.2 1371.9M12.0 1567.2L182.4 1369.5M11.2 1571.0L182.9 1374.0M8.7 1584.6L194.7 1370.4M13.4 1581.9L195.9 1372.0M11.4 1594.7L206.6 1369.4M15.2 1594.9L208.3 1373.1M22.7 1594.5L219.1 1369.1M26.3 1595.8L218.4 1374.3M35.4 1594.6L230.8 1371.2M38.4 1595.6L233.4 1371.4M47.5 1594.4L242.3 1370.1M51.0 1594.3L244.1 1372.0M61.0 1593.2L253.8 1372.3M61.6 1597.2L256.7 1371.7M71.0 1595.0L266.3 1369.6M71.9 1597.3L267.2 1374.3M82.7 1594.5L277.5 1371.6M85.2 1597.6L282.0 1370.6M97.9 1592.1L290.2 1370.0M99.3 1596.9L294.9 1371.4M106.3 1594.4L302.4 1369.8M111.9 1593.7L304.0 1372.0M119.4 1594.3L312.9 1372.6M123.7 1594.6L314.4 1374.1M132.3 1592.7L324.3 1372.5M133.8 1594.0L327.6 1372.1M142.2 1595.1L335.6 1371.4M144.5 1597.4L337.2 1374.7M154.2 1595.5L349.1 1369.1M155.9 1597.1L350.6 1374.6M166.4 1595.3L361.6 1368.8M168.1 1596.5L360.2 1374.2M179.3 1593.2L373.3 1371.6M179.5 1596.5L374.4 1372.1M189.0 1595.2L382.8 1372.4M191.8 1596.6L384.3 1373.4M201.8 1593.9L396.1 1372.2M206.1 1594.6L398.2 1371.5M214.1 1593.4L409.5 1370.4M217.1 1593.7L408.0 1373.6M226.3 1594.3L420.3 1371.1M226.5 1597.8L423.5 1372.3M237.6 1595.3L431.2 1371.8M239.7 1594.9L433.9 1373.4M249.3 1596.4L445.3 1369.6M251.7 1595.8L444.8 1374.0M261.6 1595.5L450.6 1376.3M264.7 1595.5L453.2 1379.1M273.2 1594.8L449.9 1391.3M273.6 1597.4L451.2 1393.9M286.5 1592.6L450.2 1404.0M286.0 1596.5L452.0 1405.9M298.8 1593.1L449.0 1419.7M297.9 1595.9L450.4 1421.0M310.1 1593.4L448.6 1433.3M312.1 1594.7L451.0 1435.7M321.0 1594.6L448.8 1446.9M324.9 1595.4L452.9 1446.2M333.8 1593.1L451.1 1459.0M336.9 1593.9L450.1 1463.3M345.0 1593.5L447.6 1475.9M346.4 1596.1L450.1 1476.5M358.7 1592.2L448.6 1488.8M359.4 1594.1L450.6 1489.9M367.4 1595.9L447.7 1501.5M371.9 1593.6L450.8 1502.3M381.6 1592.2L448.0 1515.5M380.5 1596.9L452.2 1516.3M391.6 1594.8L451.8 1526.3M394.5 1593.6L452.1 1528.7M403.3 1593.8L450.1 1540.0M407.3 1595.4L450.1 1544.0M415.1 1594.5L450.0 1555.7M418.2 1594.9L452.1 1557.5M427.1 1595.6L450.3 1567.5M428.5 1596.7L450.3 1572.1M440.8 1593.5L450.3 1581.9M439.6 1596.9L450.8 1584.8"/>
<path fill="none" stroke="#228be6" stroke-opacity="0.12" stroke-width="3.2" d="M1432.0 1374.6L1444.6 1358.7M1433.3 1376.9L1446.1 1361.3M1433.1 1386.0L1457.1 1358.7M1434.0 1388.4L1457.6 1362.2M1432.2 1400.5L1467.6 1360.2M1434.2 1404.5L1467.9 1363.7M1430.0 1418.1L1479.1 1361.3M1434.8 1416.5L1481.9 1361.6M1431.8 1427.9L1489.3 1361.7M1432.1 1432.8L1493.3 1361.7M1431.9 1442.7L1501.7 1363.2M1433.1 1447.0L1507.1 1361.7M1430.3 1458.5L1514.9 1361.9M1433.1 1459.6L1517.3 1363.6M1432.5 1469.0L1524.6 1362.0M1431.9 1472.0L1531.0 1361.0M1432.8 1483.0L1538.8 1361.2M1434.2 1483.8L1540.0 1364.0M1432.7 1497.0L1552.1 1359.0M1433.5 1500.9L1552.1 1364.9M1433.0 1510.1L1564.1 1359.0M1432.5 1514.2L1566.5 1361.6M1432.9 1523.2L1573.9 1361.3M1433.9 1525.7L1576.9 1361.5M1432.6 1538.6L1587.9 1359.6M1432.3 1540.9L1588.3 1363.6M1431.4 1552.8L1599.4 1359.2M1432.0 1553.9L1597.7 1364.1M1429.9 1566.6L1609.9 1360.8M1433.2 1567.6L1611.2 1361.9M1431.9 1578.5L1620.4 1361.5M1433.0 1582.8L1624.1 1363.3M1439.4 1584.2L1632.9 1361.5M1441.9 1586.5L1635.6 1363.4M1447.6 1586.9L1644.3 1361.6M1450.7 1585.8L1646.8 1360.3M1460.6 1585.6L1658.7 1359.2M1465.1 1585.5L1657.8 1363.5M1471.6 1588.2L1670.3 1358.7M1473.6 1588.1L1672.3 1360.8M1483.3 1586.8L1680.1 1362.0M1484.6 1589.1L1681.4 1362.1M1497.6 1585.8L1693.0 1359.8M1497.4 1590.0L1696.9 1360.4M1509.1 1585.3L1703.8 1360.6M1512.4 1588.3L1707.5 1363.0M1519.8 1587.6L1718.5 1358.4M1522.5 1587.6L1719.5 1361.8M1533.1 1586.0L1728.5 1360.0M1533.1 1589.3L1730.9 1362.0M1544.5 1586.0L1739.9 1359.3M1545.8 1586.4L1740.1 1362.0M1556.9 1584.3L1752.6 1360.2M1559.9 1587.5L1755.7 1362.8M1568.2 1584.7L1764.8 1359.7M1570.2 1588.0L1764.8 1362.5M1579.8 1584.9L1777.1 1358.1M1581.3 1587.0L1777.8 1362.2M1589.5 1587.5L1786.9 1360.7M1591.7 1590.4L1789.9 1362.6M1604.0 1584.8L1798.4 1361.2M1607.2 1586.7L1803.1 1360.3M1614.4 1588.1L1811.2 1361.1M1619.2 1586.3L1813.7 1362.0M1624.8 1587.8L1823.4 1360.3M1629.6 1587.0L1824.1 1362.7M1640.3 1584.5L1833.3 1360.8M1642.1 1586.1L1836.8 1362.4M1649.4 1586.6L1847.1 1360.5M1649.2 1588.2L1847.5 1362.3M1663.3 1585.4L1857.5 1361.2M1664.4 1586.5L1858.1 1362.8M1674.2 1584.6L1868.4 1361.7M1676.0 1588.2L1873.2 1360.1M1684.8 1585.7L1870.2 1374.8M1687.7 1587.4L1872.5 1374.1M1696.0 1587.9L1871.6 1386.5M1698.7 1589.2L1873.0 1389.5M1708.8 1586.7L1873.0 1399.7M1712.4 1588.6L1872.5 1402.9M1724.2 1583.8L1872.0 1413.6M1724.7 1587.3L1875.0 1415.6M1734.8 1586.1L1870.9 1429.7M1737.8 1587.3L1872.1 1431.3M1745.8 1586.4L1869.4 1443.4M1749.5 1586.4L1872.9 1446.4M1757.8 1588.2L1871.8 1456.2M1762.6 1586.4L1873.1 1458.5M1770.8 1586.2L1870.6 1469.8M1770.9 1587.5L1872.3 1471.7M1781.4 1587.4L1872.4 1481.9M1785.6 1586.8L1873.7 1483.1M1796.2 1584.0L1870.6 1499.0M1796.4 1586.9L1874.0 1498.5M1807.3 1586.0L1871.3 1511.8M1809.0 1585.3L1872.7 1513.6M1817.9 1585.9L1869.6 1526.4M1820.8 1588.4L1875.0 1524.4M1830.2 1586.0L1870.7 1539.2M1831.6 1588.7L1873.3 1540.3M1839.3 1588.0L1870.3 1552.0M1844.5 1587.4L1874.4 1552.2M1852.3 1587.0L1869.3 1566.6M1855.6 1588.4L1874.5 1566.3M1865.2 1586.2L1871.4 1578.8M1866.7 1590.1L1875.7 1580.6"/>
<path fill="none" stroke="#228be6" stroke-width="1.1" d="M1432.0 1374.6L1444.6 1358.7M1433.3 1376.9L1446.1 1361.3M1433.1 1386.0L1457.1 1358.7M1434.0 1388.4L1457.6 1362.2M1432.2 1400.5L1467.6 1360.2M1434.2 1404.5L1467.9 1363.7M1430.0 1418.1L1479.1 1361.3M1434.8 1416.5L1481.9 1361.6M1431.8 1427.9L1489.3 1361.7M1432.1 1432.8L1493.3 1361.7M1431.9 1442.7L1501.7 1363.2M1433.1 1447.0L1507.1 1361.7M1430.3 1458.5L1514.9 1361.9M1433.1 1459.6L1517.3 1363.6M1432.5 1469.0L1524.6 1362.0M1431.9 1472.0L1531.0 1361.0M1432.8 1483.0L1538.8 1361.2M1434.2 1483.8L1540.0 1364.0M1432.7 1497.0L1552.1 1359.0M1433.5 1500.9L1552.1 1364.9M1433.0 1510.1L1564.1 1359.0M1432.5 1514.2L1566.5 1361.6M1432.9 1523.2L1573.9 1361.3M1433.9 1525.7L1576.9 1361.5M1432.6 1538.6L1587.9 1359.6M1432.3 1540.9L1588.3 1363.6M1431.4 1552.8L1599.4 1359.2M1432.0 1553.9L1597.7 1364.1M1429.9 1566.6L1609.9 1360.8M1433.2 1567.6L1611.2 1361.9M1431.9 1578.5L1620.4 1361.5M1433.0 1582.8L1624.1 1363.3M1439.4 1584.2L1632.9 1361.5M1441.9 1586.5L1635.6 1363.4M1447.6 1586.9L1644.3 1361.6M1450.7 1585.8L1646.8 1360.3M1460.6 1585.6L1658.7 1359.2M1465.1 1585.5L1657.8 1363.5M1471.6 1588.2L1670.3 1358.7M1473.6 1588.1L1672.3 1360.8M1483.3 1586.8L1680.1 1362.0M1484.6 1589.1L1681.4 1362.1M1497.6 1585.8L1693.0 1359.8M1497.4 1590.0L1696.9 1360.4M1509.1 1585.3L1703.8 1360.6M1512.4 1588.3L1707.5 1363.0M1519.8 1587.6L1718.5 1358.4M1522.5 1587.6L1719.5 1361.8M1533.1 1586.0L1728.5 1360.0M1533.1 1589.3L1730.9 1362.0M1544.5 1586.0L1739.9 1359.3M1545.8 1586.4L1740.1 1362.0M1556.9 1584.3L1752.6 1360.2M1559.9 1587.5L1755.7 1362.8M1568.2 1584.7L1764.8 1359.7M1570.2 1588.0L1764.8 1362.5M1579.8 1584.9L1777.1 1358.1M1581.3 1587.0L1777.8 1362.2M1589.5 1587.5L1786.9 1360.7M1591.7 1590.4L1789.9 1362.6M1604.0 1584.8L1798.4 1361.2M1607.2 1586.7L1803.1 1360.3M1614.4 1588.1L1811.2 1361.1M1619.2 1586.3L1813.7 1362.0M1624.8 1587.8L1823.4 1360.3M1629.6 1587.0L1824.1 1362.7M1640.3 1584.5L1833.3 1360.8M1642.1 1586.1L1836.8 1362.4M1649.4 1586.6L1847.1 1360.5M1649.2 1588.2L1847.5 1362.3M1663.3 1585.4L1857.5 1361.2M1664.4 1586.5L1858.1 1362.8M1674.2 1584.6L1868.4 1361.7M1676.0 1588.2L1873.2 1360.1M1684.8 1585.7L1870.2 1374.8M1687.7 1587.4L1872.5 1374.1M1696.0 1587.9L1871.6 1386.5M1698.7 1589.2L1873.0 1389.5M1708.8 1586.7L1873.0 1399.7M1712.4 1588.6L1872.5 1402.9M1724.2 1583.8L1872.0 1413.6M1724.7 1587.3L1875.0 1415.6M1734.8 1586.1L1870.9 1429.7M1737.8 1587.3L1872.1 1431.3M1745.8 1586.4L1869.4 1443.4M1749.5 1586.4L1872.9 1446.4M1757.8 1588.2L1871.8 1456.2M1762.6 1586.4L1873.1 1458.5M1770.8 1586.2L1870.6 1469.8M1770.9 1587.5L1872.3 1471.7M1781.4 1587.4L1872.4 1481.9M1785.6 1586.8L1873.7 1483.1M1796.2 1584.0L1870.6 1499.0M1796.4 1586.9L1874.0 1498.5M1807.3 1586.0L1871.3 1511.8M1809.0 1585.3L1872.7 1513.6M1817.9 1585.9L1869.6 1526.4M1820.8 1588.4L1875.0 1524.4M1830.2 1586.0L1870.7 1539.2M1831.6 1588.7L1873.3 1540.3M1839.3 1588.0L1870.3 1552.0M1844.5 1587.4L1874.4 1552.2M1852.3 1587.0L1869.3 1566.6M1855.6 1588.4L1874.5 1566.3M1865.2 1586.2L1871.4 1578.8M1866.7 1590.1L1875.7 1580.6"/>
<path fill="none" stroke="#228be6" stroke-opacity="0.12" stroke-width="3.2" d="M683.5 1917.1L687.8 1911.0M684.1 1920.4L689.4 1915.1M683.2 1932.2L702.1 1910.3M683.0 1936.1L701.1 1914.1M683.7 1945.0L711.9 1913.4M682.7 1950.2L714.5 1913.2M682.7 1960.7L724.5 1912.4M683.5 1961.5L725.3 1914.9M682.5 1975.4L738.0 1909.9M683.7 1975.4L738.4 1911.6M681.5 1988.3L747.5 1911.4M685.7 1988.8L751.7 1912.6M681.1 2002.7L760.2 1913.4M682.4 2003.7L761.0 1915.2M680.9 2017.0L772.5 1910.8M684.5 2015.6L774.3 1912.1M681.5 2029.2L784.7 1911.3M683.4 2030.5L783.5 1916.2M682.7 2040.3L796.0 1910.9M683.5 2045.0L795.8 1914.9M680.4 2057.2L807.2 1911.6M683.0 2058.2L809.4 1913.5M683.2 2069.4L819.2 1912.9M685.9 2070.0L819.3 1915.3M683.5 2081.8L832.1 1912.6M685.3 2084.9L833.6 1914.1M683.8 2095.0L841.6 1913.6M685.8 2098.6L844.9 1915.8M681.8 2111.1L854.9 1914.3M683.3 2112.8L856.7 1914.1M683.5 2124.0L867.9 1910.6M683.3 2127.6L868.5 1913.2M690.4 2127.8L877.5 1914.1M693.2 2129.4L880.8 1914.3M706.0 2126.1L889.8 1913.3M705.6 2130.7L891.4 1915.2M716.6 2126.6L904.2 1911.3M717.8 2130.7L906.5 1912.2M726.9 2127.3L914.2 1912.5M729.6 2127.9L916.2 1913.2M739.0 2127.8L925.4 1913.2M738.8 2130.1L927.2 1914.1M750.3 2128.1L937.9 1912.1M753.6 2127.9L940.2 1913.3M763.1 2128.3L950.6 1910.9M766.8 2127.5L954.5 1912.7M775.0 2126.9L961.6 1912.9M777.7 2128.8L964.1 1914.6M786.6 2127.9L972.9 1912.0M786.8 2131.1L977.2 1912.4M799.4 2125.6L987.1 1911.2M799.4 2129.2L986.4 1914.1M810.9 2127.2L998.8 1910.8M811.2 2128.8L1000.0 1913.7M823.9 2126.1L1009.5 1911.7M824.2 2129.3L1011.9 1914.1M834.5 2127.7L1022.6 1911.4M835.3 2129.7L1023.4 1913.9M847.0 2127.7L1033.8 1911.9M848.5 2130.2L1037.9 1912.3M859.4 2127.3L1045.8 1911.3M861.3 2126.7L1045.9 1915.3M870.9 2127.4L1057.3 1911.6M872.1 2129.3L1060.1 1912.4M881.7 2127.2L1070.4 1911.9M883.2 2129.0L1071.6 1913.2M894.0 2126.9L1081.9 1910.8M895.9 2129.6L1082.8 1915.2M905.1 2126.5L1094.0 1911.7M907.3 2128.8L1094.9 1914.7M917.6 2126.7L1104.3 1911.8M919.0 2129.3L1104.4 1914.9M928.7 2128.5L1116.4 1911.7M930.4 2130.1L1118.2 1914.5M939.0 2128.8L1127.4 1912.4M943.1 2130.1L1130.1 1915.5M954.6 2126.1L1141.7 1910.9M956.3 2127.7L1143.7 1912.3M965.8 2125.2L1152.1 1911.5M967.1 2131.1L1156.3 1912.8M976.2 2128.6L1164.6 1911.8M978.4 2130.0L1167.5 1913.2M989.8 2126.9L1175.3 1914.0M989.5 2129.2L1178.0 1914.0M1000.5 2127.8L1188.7 1912.9M1004.5 2128.2L1189.5 1914.5M1014.0 2126.1L1201.7 1910.2M1015.1 2128.5L1203.5 1913.1M1025.3 2126.8L1211.8 1912.5M1026.1 2130.3L1213.6 1914.0M1038.5 2126.9L1222.6 1914.8M1037.5 2130.9L1222.2 1918.9M1050.6 2125.8L1221.6 1929.4M1051.5 2128.7L1223.2 1931.1M1060.0 2129.5L1220.0 1945.9M1063.2 2129.5L1222.0 1947.1M1073.9 2127.1L1221.1 1958.1M1076.1 2130.7L1221.0 1961.6M1086.8 2125.8L1219.7 1973.0M1088.9 2128.0L1223.4 1972.2M1099.4 2127.2L1220.4 1987.6M1099.7 2129.4L1221.7 1987.5M1108.8 2129.0L1221.4 2000.7M1114.0 2127.8L1222.9 2002.4M1121.5 2127.3L1221.7 2012.4M1121.6 2130.7L1224.5 2013.8M1134.0 2127.6L1220.1 2028.6M1135.2 2129.8L1223.4 2029.2M1147.3 2126.4L1220.1 2042.9M1148.0 2129.7L1222.4 2044.3M1157.4 2128.1L1220.5 2056.1M1160.8 2128.6L1221.7 2057.4M1169.6 2129.7L1220.1 2070.9M1173.8 2128.0L1220.7 2073.0M1181.1 2128.4L1220.0 2084.7M1185.8 2127.9L1223.6 2085.9M1195.3 2126.0L1221.9 2095.9M1195.2 2129.2L1221.0 2099.4M1207.1 2125.4L1219.5 2112.1M1206.8 2129.5L1222.7 2112.0M1219.1 2128.2L1219.7 2127.5M1222.2 2127.4L1222.7 2125.9"/>
<path fill="none" stroke="#228be6" stroke-width="1.1" d="M683.5 1917.1L687.8 1911.0M684.1 1920.4L689.4 1915.1M683.2 1932.2L702.1 1910.3M683.0 1936.1L701.1 1914.1M683.7 1945.0L711.9 1913.4M682.7 1950.2L714.5 1913.2M682.7 1960.7L724.5 1912.4M683.5 1961.5L725.3 1914.9M682.5 1975.4L738.0 1909.9M683.7 1975.4L738.4 1911.6M681.5 1988.3L747.5 1911.4M685.7 1988.8L751.7 1912.6M681.1 2002.7L760.2 1913.4M682.4 2003.7L761.0 1915.2M680.9 2017.0L772.5 1910.8M684.5 2015.6L774.3 1912.1M681.5 2029.2L784.7 1911.3M683.4 2030.5L783.5 1916.2M682.7 2040.3L796.0 1910.9M683.5 2045.0L795.8 1914.9M680.4 2057.2L807.2 1911.6M683.0 2058.2L809.4 1913.5M683.2 2069.4L819.2 1912.9M685.9 2070.0L819.3 1915.3M683.5 2081.8L832.1 1912.6M685.3 2084.9L833.6 1914.1M683.8 2095.0L841.6 1913.6M685.8 2098.6L844.9 1915.8M681.8 2111.1L854.9 1914.3M683.3 2112.8L856.7 1914.1M683.5 2124.0L867.9 1910.6M683.3 2127.6L868.5 1913.2M690.4 2127.8L877.5 1914.1M693.2 2129.4L880.8 1914.3M706.0 2126.1L889.8 1913.3M705.6 2130.7L891.4 1915.2M716.6 2126.6L904.2 1911.3M717.8 2130.7L906.5 1912.2M726.9 2127.3L914.2 1912.5M729.6 2127.9L916.2 1913.2M739.0 2127.8L925.4 1913.2M738.8 2130.1L927.2 1914.1M750.3 2128.1L937.9 1912.1M753.6 2127.9L940.2 1913.3M763.1 2128.3L950.6 1910.9M766.8 2127.5L954.5 1912.7M775.0 2126.9L961.6 1912.9M777.7 2128.8L964.1 1914.6M786.6 2127.9L972.9 1912.0M786.8 2131.1L977.2 1912.4M799.4 2125.6L987.1 1911.2M799.4 2129.2L986.4 1914.1M810.9 2127.2L998.8 1910.8M811.2 2128.8L1000.0 1913.7M823.9 2126.1L1009.5 1911.7M824.2 2129.3L1011.9 1914.1M834.5 2127.7L1022.6 1911.4M835.3 2129.7L1023.4 1913.9M847.0 2127.7L1033.8 1911.9M848.5 2130.2L1037.9 1912.3M859.4 2127.3L1045.8 1911.3M861.3 2126.7L1045.9 1915.3M870.9 2127.4L1057.3 1911.6M872.1 2129.3L1060.1 1912.4M881.7 2127.2L1070.4 1911.9M883.2 2129.0L1071.6 1913.2M894.0 2126.9L1081.9 1910.8M895.9 2129.6L1082.8 1915.2M905.1 2126.5L1094.0 1911.7M907.3 2128.8L1094.9 1914.7M917.6 2126.7L1104.3 1911.8M919.0 2129.3L1104.4 1914.9M928.7 2128.5L1116.4 1911.7M930.4 2130.1L1118.2 1914.5M939.0 2128.8L1127.4 1912.4M943.1 2130.1L1130.1 1915.5M954.6 2126.1L1141.7 1910.9M956.3 2127.7L1143.7 1912.3M965.8 2125.2L1152.1 1911.5M967.1 2131.1L1156.3 1912.8M976.2 2128.6L1164.6 1911.8M978.4 2130.0L1167.5 1913.2M989.8 2126.9L1175.3 1914.0M989.5 2129.2L1178.0 1914.0M1000.5 2127.8L1188.7 1912.9M1004.5 2128.2L1189.5 1914.5M1014.0 2126.1L1201.7 1910.2M1015.1 2128.5L1203.5 1913.1M1025.3 2126.8L1211.8 1912.5M1026.1 2130.3L1213.6 1914.0M1038.5 2126.9L1222.6 1914.8M1037.5 2130.9L1222.2 1918.9M1050.6 2125.8L1221.6 1929.4M1051.5 2128.7L1223.2 1931.1M1060.0 2129.5L1220.0 1945.9M1063.2 2129.5L1222.0 1947.1M1073.9 2127.1L1221.1 1958.1M1076.1 2130.7L1221.0 1961.6M1086.8 2125.8L1219.7 1973.0M1088.9 2128.0L1223.4 1972.2M1099.4 2127.2L1220.4 1987.6M1099.7 2129.4L1221.7 1987.5M1108.8 2129.0L1221.4 2000.7M1114.0 2127.8L1222.9 2002.4M1121.5 2127.3L1221.7 2012.4M1121.6 2130.7L1224.5 2013.8M1134.0 2127.6L1220.1 2028.6M1135.2 2129.8L1223.4 2029.2M1147.3 2126.4L1220.1 2042.9M1148.0 2129.7L1222.4 2044.3M1157.4 2128.1L1220.5 2056.1M1160.8 2128.6L1221.7 2057.4M1169.6 2129.7L1220.1 2070.9M1173.8 2128.0L1220.7 2073.0M1181.1 2128.4L1220.0 2084.7M1185.8 2127.9L1223.6 2085.9M1195.3 2126.0L1221.9 2095.9M1195.2 2129.2L1221.0 2099.4M1207.1 2125.4L1219.5 2112.1M1206.8 2129.5L1222.7 2112.0M1219.1 2128.2L1219.7 2127.5M1222.2 2127.4L1222.7 2125.9"/>
<path fill="none" stroke="#111" stroke-width="1.3" stroke-linecap="round" d="M710.5,11.5L1153.5,12.5M709.6,11.2L1152.8,12.8M1152.0,10.0L1152.5,238.0M1151.4,9.1L1152.9,236.3M1154.0,236.0L711.0,235.5M1154.9,236.0L710.2,234.0M712.0,238.0L712.5,10.0M712.0,238.0L713.2,9.5M17.5,464.0L364.5,465.0M17.2,465.6L363.8,466.9M363.0,462.5L363.5,697.0M364.2,464.5L364.8,696.0M365.0,695.0L18.0,694.5M365.9,695.4L17.1,696.5M19.0,697.0L19.5,462.5M19.4,698.2L19.7,460.8M710.5,821.0L1212.0,822.0M711.6,819.7L1211.3,822.5M1210.5,819.5L1211.0,1051.0M1209.6,819.4L1211.6,1049.4M1212.5,1049.0L711.0,1048.5M1213.0,1047.4L710.9,1049.1M712.0,1051.0L712.5,819.5M712.6,1049.2L711.6,821.3M9.0,1371.0L451.1,1372.0M8.7,1370.7L450.7,1372.8M449.6,1369.5L450.1,1596.0M450.3,1370.1L449.8,1596.3M451.6,1594.0L9.5,1593.5M451.6,1592.8L10.8,1595.4M10.5,1596.0L11.0,1369.5M11.3,1598.0L10.9,1370.9M1430.1,1360.6L1872.5,1361.6M1429.3,1361.6L1873.1,1363.4M1871.0,1359.1L1871.5,1588.0M1872.0,1360.6L1870.8,1589.1M1873.0,1586.0L1430.6,1585.5M1872.9,1585.2L1430.2,1586.7M1431.6,1588.0L1432.1,1359.1M1432.6,1589.4L1432.6,1357.8M680.8,1912.3L1222.4,1913.3M679.8,1912.6L1221.5,1912.6M1220.9,1910.8L1221.4,2129.4M1219.7,1909.4L1222.1,2128.3M1222.9,2127.4L681.3,2126.9M1223.9,2126.7L682.3,2126.1M682.3,2129.4L682.8,1910.8M681.6,2129.0L681.3,1910.5"/>
<g fill="none" stroke="#000" stroke-linecap="round" stroke-linejoin="round">
<path d="M196.2,447.6 L196.3,445.6 L196.3,443.6 L196.3,441.5 L196.3,439.5 L196.4,437.5 L196.6,435.4 L196.9,433.3 L197.4,431.1 L197.9,428.8 L198.5,426.6 L199.2,424.4 L200.0,422.1 L201.0,419.9 L202.0,417.7 L203.0,415.6 L204.1,413.6 L205.3,411.6 L206.5,409.7 L207.7,407.9 L208.9,406.1 L210.2,404.3 L211.5,402.5 L212.9,400.7 L214.3,398.9 L215.9,397.1 L217.5,395.2 L219.1,393.4 L220.9,391.5 L222.7,389.7 L224.5,387.8 L226.3,386.1 L228.1,384.4 L229.9,382.7 L231.7,381.2 L233.4,379.7 L235.0,378.3 L236.7,376.9 L238.3,375.5 L239.9,374.2 L241.6,372.8 L243.3,371.5 L245.0,370.1 L246.7,368.7 L248.6,367.2 L250.4,365.7 L252.4,364.2 L254.4,362.6 L256.5,361.0 L258.6,359.4 L260.8,357.7 L263.0,356.1 L265.2,354.4 L267.4,352.8 L269.6,351.1 L271.8,349.6 L273.9,348.0 L276.0,346.5 L278.0,345.1 L279.9,343.7 L281.8,342.4 L283.6,341.1 L285.4,339.8 L287.3,338.5 L289.1,337.2 L290.9,335.9 L292.8,334.6 L294.7,333.2 L296.6,331.8 L298.6,330.4 L300.6,329.0 L302.6,327.6 L304.6,326.1 L306.7,324.6 L308.9,323.0 L311.0,321.4 L313.2,319.8 L315.4,318.2 L317.6,316.6 L319.9,314.9 L322.1,313.3 L324.3,311.6 L326.5,310.0 L328.6,308.5 L330.6,307.0 L332.6,305.5 L334.5,304.1 L336.3,302.8 L338.1,301.5 L339.8,300.2 L341.5,299.0 L343.2,297.7 L344.9,296.5 L346.6,295.3 L348.3,294.0 L350.0,292.8 L351.7,291.6 L353.4,290.3 L355.1,289.1 L356.9,287.9 L358.6,286.6 L360.4,285.4 L362.1,284.2 L363.9,282.9 L365.6,281.7 L367.4,280.5 L369.2,279.3 L370.9,278.1 L372.7,276.9 L374.5,275.6 L376.3,274.5 L378.1,273.3 L379.8,272.1 L381.6,270.9 L383.4,269.7 L385.2,268.6 L387.0,267.4 L388.8,266.3 L390.6,265.1 L392.4,264.0 L394.2,262.9 L396.0,261.8 L397.8,260.7 L399.5,259.6 L401.3,258.6 L403.1,257.5 L404.9,256.4 L406.8,255.4 L408.6,254.4 L410.4,253.3 L412.3,252.3 L414.2,251.3 L416.1,250.2 L418.0,249.2 L419.8,248.3 L421.7,247.3 L423.6,246.3 L425.4,245.4 L427.2,244.5 L429.1,243.5 L430.9,242.6 L432.8,241.7 L434.6,240.8 L436.5,239.9 L438.4,239.0 L440.2,238.2 L442.1,237.3 L444.0,236.4 L445.9,235.5 L447.8,234.7 L449.7,233.8 L451.6,233.0 L453.5,232.1 L455.4,231.3 L457.3,230.4 L459.3,229.6 L461.2,228.8 L463.1,227.9 L465.0,227.1 L467.0,226.3 L468.9,225.5 L470.8,224.7 L472.8,223.9 L474.7,223.1 L476.6,222.3 L478.6,221.5 L480.5,220.7 L482.4,220.0 L484.4,219.2 L486.3,218.4 L488.2,217.7 L490.1,216.9 L492.1,216.2 L494.0,215.5 L495.9,214.7 L497.9,214.0 L499.9,213.2 L501.9,212.5 L504.0,211.7 L506.2,210.9 L508.5,210.0 L510.9,209.2 L513.3,208.3 L515.9,207.3 L518.5,206.4 L521.1,205.5 L523.8,204.5 L526.5,203.6 L529.1,202.6 L531.8,201.7 L534.4,200.8 L537.0,199.9 L539.6,199.1 L542.1,198.2 L544.5,197.4 L546.9,196.6 L549.3,195.8 L551.5,195.1 L553.7,194.4 L555.9,193.7 L558.0,193.0 L560.0,192.4 L562.1,191.8 L564.1,191.2 L566.1,190.6 L568.2,190.0 L570.3,189.3 L572.5,188.7 L574.8,188.1 L577.1,187.5 L579.6,186.8 L582.1,186.1 L584.7,185.4 L587.4,184.7 L590.2,184.0 L593.0,183.4 L595.8,182.7 L598.6,182.0 L601.4,181.3 L604.2,180.7 L607.0,180.1 L609.9,179.4 L612.7,178.8 L615.4,178.2 L618.1,177.7 L620.8,177.1 L623.3,176.6 L625.8,176.1 L628.2,175.6 L630.5,175.2 L632.7,174.8 L634.8,174.4 L636.8,174.0 L638.9,173.6 L640.9,173.3 L642.9,173.0 L644.8,172.6 L646.8,172.3 L648.8,172.0 L650.8,171.7 L652.8,171.4 L654.8,171.2 L656.8,170.9 L658.7,170.6 L660.7,170.3 L662.7,170.1 L664.7,169.8 L666.7,169.5 L668.7,169.3 L670.7,169.0 L672.7,168.8 L674.7,168.5 L676.7,168.3 L678.6,168.0 L680.6,167.8 L682.6,167.6 L684.6,167.3 L686.6,167.1 L688.6,166.8 L690.6,166.6 L692.6,166.3 L694.6,166.1 L696.6,165.8 L698.6,165.6 L700.6,165.3 L702.5,165.1 L704.5,164.8 L706.5,164.5 L708.5,164.3 L710.5,164.0" stroke-width="4.2"/>
<path d="M639.6,131.0 L717.0,188.8" stroke-width="3.6"/>
<path d="M633.0,246.5 C640.3,239.3 647.1,231.5 655.0,225.0 C664.2,217.4 674.6,211.0 685.0,205.0 C695.3,199.0 706.3,194.2 717.0,188.8" stroke-width="4.4"/>
<path d="M1160.6,99.4 L1162.6,99.3 L1164.6,99.3 L1166.6,99.2 L1168.6,99.1 L1170.6,99.0 L1172.6,98.9 L1174.7,98.8 L1176.7,98.7 L1178.7,98.5 L1180.7,98.4 L1182.7,98.3 L1184.7,98.2 L1186.7,98.0 L1188.7,97.9 L1190.7,97.7 L1192.7,97.6 L1194.8,97.5 L1196.8,97.3 L1198.8,97.2 L1200.8,97.1 L1202.8,97.0 L1204.8,96.9 L1206.8,96.8 L1208.8,96.7 L1210.8,96.6 L1212.8,96.5 L1214.9,96.5 L1216.9,96.4 L1219.0,96.4 L1221.2,96.4 L1223.4,96.4 L1225.7,96.5 L1228.1,96.5 L1230.6,96.7 L1233.2,96.8 L1235.9,97.0 L1238.6,97.2 L1241.3,97.4 L1243.9,97.7 L1246.5,98.0 L1249.1,98.3 L1251.5,98.6 L1253.9,99.0 L1256.1,99.3 L1258.3,99.7 L1260.4,100.0 L1262.5,100.4 L1264.6,100.8 L1266.6,101.1 L1268.6,101.5 L1270.6,101.9 L1272.5,102.4 L1274.5,102.8 L1276.5,103.2 L1278.5,103.7 L1280.5,104.2 L1282.5,104.7 L1284.5,105.2 L1286.4,105.7 L1288.4,106.2 L1290.4,106.8 L1292.3,107.3 L1294.3,107.9 L1296.3,108.5 L1298.2,109.1 L1300.1,109.7 L1302.1,110.4 L1304.0,111.0 L1305.9,111.7 L1307.8,112.4 L1309.8,113.1 L1311.8,113.9 L1313.8,114.6 L1315.8,115.5 L1318.0,116.4 L1320.2,117.4 L1322.5,118.5 L1324.9,119.6 L1327.4,120.8 L1329.9,122.1 L1332.4,123.5 L1334.9,124.9 L1337.4,126.4 L1339.9,127.9 L1342.4,129.5 L1344.9,131.1 L1347.3,132.8 L1349.7,134.5 L1352.0,136.2 L1354.3,137.9 L1356.5,139.7 L1358.7,141.4 L1360.7,143.0 L1362.7,144.6 L1364.6,146.2 L1366.4,147.7 L1368.1,149.1 L1369.8,150.6 L1371.4,151.9 L1372.9,153.3 L1374.5,154.6 L1376.1,156.0 L1377.6,157.3 L1379.2,158.7 L1380.8,160.0 L1382.3,161.3 L1383.9,162.7 L1385.5,164.0 L1387.1,165.4 L1388.7,166.7 L1390.4,168.1 L1392.1,169.4 L1393.8,170.8 L1395.6,172.2 L1397.4,173.6 L1399.3,175.1 L1401.3,176.6 L1403.2,178.1 L1405.1,179.5 L1407.1,181.0 L1409.0,182.4 L1410.8,183.8 L1412.6,185.2 L1414.4,186.5 L1416.1,187.8 L1417.8,189.0 L1419.5,190.3 L1421.2,191.6 L1422.9,192.8 L1424.6,194.1 L1426.3,195.4 L1428.0,196.6 L1429.7,197.9 L1431.4,199.2 L1433.2,200.5 L1434.9,201.7 L1436.6,203.0 L1438.3,204.3 L1440.0,205.6 L1441.8,206.9 L1443.5,208.2 L1445.2,209.4 L1446.9,210.7 L1448.6,212.0 L1450.3,213.3 L1452.0,214.5 L1453.6,215.8 L1455.3,217.1 L1457.0,218.4 L1458.7,219.6 L1460.4,220.9 L1462.1,222.3 L1463.9,223.7 L1465.7,225.1 L1467.6,226.6 L1469.6,228.1 L1471.6,229.7 L1473.7,231.4 L1475.7,233.0 L1477.8,234.7 L1479.9,236.4 L1481.9,238.1 L1483.9,239.8 L1485.9,241.4 L1487.8,243.1 L1489.6,244.7 L1491.4,246.3 L1493.2,247.8 L1494.9,249.4 L1496.7,251.1 L1498.4,252.7 L1500.2,254.4 L1502.1,256.2 L1503.9,258.1 L1505.9,260.0 L1507.8,261.9 L1509.8,263.9 L1511.7,265.8 L1513.7,267.8 L1515.6,269.7 L1517.5,271.6 L1519.3,273.4 L1521.2,275.2 L1523.0,277.0 L1524.8,278.7 L1526.6,280.5 L1528.4,282.2 L1530.2,283.9 L1531.9,285.6 L1533.7,287.2 L1535.4,288.8 L1537.1,290.4 L1538.7,291.9 L1540.3,293.4 L1541.9,294.9 L1543.4,296.3 L1544.9,297.7 L1546.5,299.1 L1548.0,300.6 L1549.5,302.0 L1551.1,303.4 L1552.6,304.8 L1554.1,306.3 L1555.7,307.7 L1557.2,309.1 L1558.7,310.5 L1560.3,311.9 L1561.8,313.4 L1563.3,314.8 L1564.9,316.2 L1566.4,317.7 L1568.0,319.2 L1569.6,320.7 L1571.3,322.3 L1573.0,323.9 L1574.8,325.6 L1576.6,327.2 L1578.4,328.9 L1580.2,330.6 L1581.9,332.2 L1583.6,333.8 L1585.3,335.4 L1587.0,336.9 L1588.6,338.4 L1590.2,339.8 L1591.7,341.2 L1593.3,342.7 L1594.9,344.1 L1596.4,345.5 L1598.0,346.9 L1599.6,348.4 L1601.3,350.0 L1603.0,351.6 L1604.7,353.3 L1606.5,355.0 L1608.3,356.9 L1610.1,358.8 L1611.9,360.8 L1613.7,362.8 L1615.4,364.9 L1617.0,367.0 L1618.6,369.1 L1620.1,371.3 L1621.5,373.5 L1622.8,375.8 L1624.1,378.1 L1625.3,380.5 L1626.5,382.8 L1627.6,385.2 L1628.6,387.5 L1629.6,389.8 L1630.6,392.1 L1631.6,394.3 L1632.6,396.4 L1633.5,398.5 L1634.5,400.6 L1635.5,402.7 L1636.5,404.7 L1637.6,406.8 L1638.7,408.9 L1639.9,411.0 L1641.0,413.2 L1642.3,415.3 L1643.5,417.6 L1644.8,419.8 L1646.1,422.1 L1647.5,424.5 L1648.9,426.8 L1650.2,429.2 L1651.6,431.5 L1653.0,433.8 L1654.3,436.0 L1655.6,438.2 L1656.8,440.3 L1658.0,442.3 L1659.2,444.3 L1660.3,446.2 L1661.4,448.0 L1662.5,449.9 L1663.6,451.7 L1664.6,453.5 L1665.7,455.4 L1666.8,457.2 L1667.8,459.0 L1668.9,460.9 L1670.0,462.8 L1671.1,464.7 L1672.1,466.5 L1673.2,468.4 L1674.3,470.3 L1675.4,472.2 L1676.4,474.2 L1677.5,476.1 L1678.5,478.0 L1679.6,479.9 L1680.6,481.9 L1681.7,483.8 L1682.7,485.8 L1683.7,487.7 L1684.7,489.7 L1685.7,491.6 L1686.7,493.6 L1687.7,495.5 L1688.7,497.5 L1689.7,499.5 L1690.7,501.6 L1691.7,503.7 L1692.7,505.8 L1693.7,508.0 L1694.8,510.3 L1695.8,512.7 L1696.9,515.1 L1698.0,517.6 L1699.1,520.1 L1700.2,522.5 L1701.2,524.9 L1702.2,527.2 L1703.1,529.5 L1704.0,531.6 L1704.9,533.7 L1705.7,535.7 L1706.5,537.7 L1707.3,539.7 L1708.1,541.6 L1708.9,543.5 L1709.6,545.5 L1710.4,547.4 L1711.2,549.4 L1711.9,551.3 L1712.7,553.3 L1713.5,555.3 L1714.2,557.2 L1715.0,559.2 L1715.8,561.2 L1716.5,563.2 L1717.3,565.2 L1718.0,567.2 L1718.8,569.2 L1719.5,571.2 L1720.3,573.2 L1721.0,575.2 L1721.7,577.2 L1722.5,579.2 L1723.2,581.2 L1724.0,583.2 L1724.7,585.2 L1725.4,587.2 L1726.1,589.2 L1726.9,591.2 L1727.6,593.2 L1728.3,595.2 L1729.0,597.2 L1729.7,599.2 L1730.4,601.1 L1731.2,603.1 L1731.9,605.1 L1732.6,607.0 L1733.3,609.0 L1733.9,611.0 L1734.6,612.9 L1735.3,614.9 L1736.1,616.9 L1736.8,619.0 L1737.5,621.1 L1738.3,623.3 L1739.1,625.6 L1739.9,627.9 L1740.8,630.4 L1741.7,632.9 L1742.6,635.5 L1743.5,638.1 L1744.4,640.7 L1745.3,643.3 L1746.2,645.9 L1747.1,648.4 L1748.0,650.9 L1748.9,653.3 L1749.7,655.7 L1750.5,658.0 L1751.3,660.2 L1752.1,662.5 L1752.9,664.6 L1753.7,666.8 L1754.4,668.9 L1755.2,671.0 L1755.9,673.1 L1756.7,675.1 L1757.4,677.2 L1758.1,679.2 L1758.8,681.2 L1759.5,683.2 L1760.3,685.2 L1761.0,687.3 L1761.7,689.4 L1762.5,691.5 L1763.2,693.7 L1764.0,696.0 L1764.9,698.4 L1765.7,700.9 L1766.6,703.5 L1767.5,706.1 L1768.3,708.8 L1769.2,711.5 L1770.1,714.2 L1771.0,716.9 L1771.8,719.6 L1772.7,722.3 L1773.5,724.9 L1774.3,727.5 L1775.1,730.1 L1775.8,732.7 L1776.5,735.1 L1777.2,737.5 L1777.9,739.8 L1778.5,742.1 L1779.1,744.3 L1779.7,746.6 L1780.3,748.8 L1780.9,751.1 L1781.5,753.5 L1782.2,756.0 L1782.8,758.5 L1783.5,761.2 L1784.1,763.9 L1784.8,766.6 L1785.4,769.4 L1786.0,772.2 L1786.6,775.0 L1787.2,777.7 L1787.7,780.4 L1788.2,783.0 L1788.7,785.5 L1789.1,788.0 L1789.5,790.4 L1789.9,792.7 L1790.2,795.1 L1790.6,797.5 L1790.9,800.0 L1791.2,802.5 L1791.4,805.1 L1791.7,807.8 L1792.0,810.5 L1792.2,813.3 L1792.4,816.1 L1792.6,818.9 L1792.8,821.7 L1792.9,824.4 L1793.0,827.1 L1793.1,829.6 L1793.2,832.1 L1793.3,834.4 L1793.4,836.6 L1793.4,838.8 L1793.5,840.9 L1793.5,843.0 L1793.6,845.1 L1793.6,847.2 L1793.7,849.2 L1793.7,851.3 L1793.7,853.3 L1793.7,855.4 L1793.8,857.5 L1793.8,859.6 L1793.8,861.7 L1793.9,863.7 L1793.9,865.8 L1793.9,867.9 L1794.0,870.0 L1794.0,872.1 L1794.0,874.2 L1794.1,876.3 L1794.1,878.5 L1794.2,880.7 L1794.2,883.0 L1794.3,885.3 L1794.4,887.8 L1794.4,890.2 L1794.5,892.7 L1794.6,895.3 L1794.6,897.8 L1794.7,900.3 L1794.7,902.7 L1794.8,905.0 L1794.8,907.2 L1794.9,909.4 L1794.9,911.5 L1795.0,913.6 L1795.0,915.7 L1795.1,917.7 L1795.1,919.8 L1795.1,921.8 L1795.2,923.9 L1795.2,926.0 L1795.3,928.0 L1795.3,930.1 L1795.3,932.1 L1795.4,934.2 L1795.4,936.3 L1795.5,938.3 L1795.5,940.4 L1795.5,942.4 L1795.6,944.5 L1795.6,946.5 L1795.7,948.6 L1795.7,950.7 L1795.8,952.8 L1795.8,955.0 L1795.9,957.2 L1796.0,959.5 L1796.0,962.0 L1796.1,964.5 L1796.2,967.1 L1796.3,969.8 L1796.4,972.5 L1796.5,975.3 L1796.7,978.0 L1796.8,980.7 L1796.9,983.3 L1797.1,985.8 L1797.2,988.3 L1797.3,990.7 L1797.5,993.0 L1797.6,995.2 L1797.8,997.4 L1798.0,999.5 L1798.1,1001.6 L1798.3,1003.7 L1798.5,1005.8 L1798.6,1007.9 L1798.8,1009.9 L1799.0,1012.0 L1799.2,1014.1 L1799.4,1016.2 L1799.6,1018.4 L1799.8,1020.6 L1800.0,1022.9 L1800.2,1025.4 L1800.5,1027.9 L1800.7,1030.5 L1801.0,1033.2 L1801.2,1036.0 L1801.5,1038.8 L1801.7,1041.6 L1802.0,1044.4 L1802.2,1047.2 L1802.4,1049.8 L1802.6,1052.5 L1802.8,1055.0 L1803.0,1057.5 L1803.2,1060.0 L1803.3,1062.4 L1803.5,1064.9 L1803.6,1067.4 L1803.8,1069.9 L1803.9,1072.6 L1804.1,1075.3 L1804.2,1078.1 L1804.4,1080.9 L1804.5,1083.7 L1804.7,1086.5 L1804.8,1089.3 L1804.9,1092.0 L1805.0,1094.6 L1805.1,1097.1 L1805.2,1099.6 L1805.3,1102.0 L1805.4,1104.3 L1805.5,1106.5 L1805.5,1108.8 L1805.6,1111.1 L1805.7,1113.4 L1805.7,1115.8 L1805.8,1118.2 L1805.8,1120.6 L1805.9,1123.1 L1805.9,1125.5 L1805.9,1127.9 L1806.0,1130.2 L1806.0,1132.5 L1806.0,1134.7 L1806.0,1136.9 L1806.0,1139.1 L1806.1,1141.2 L1806.1,1143.4 L1806.1,1145.6 L1806.1,1147.7 L1806.1,1149.9 L1806.1,1152.1 L1806.1,1154.3 L1806.1,1156.5 L1806.1,1158.6 L1806.1,1160.8 L1806.1,1162.9 L1806.1,1165.1 L1806.1,1167.2 L1806.1,1169.4 L1806.1,1171.6 L1806.1,1173.8 L1806.1,1176.0 L1806.1,1178.4 L1806.1,1180.7 L1806.1,1183.2 L1806.0,1185.7 L1806.0,1188.2 L1806.0,1190.8 L1806.0,1193.4 L1806.0,1195.9 L1806.1,1198.4 L1806.1,1200.9 L1806.1,1203.3 L1806.1,1205.7 L1806.2,1208.1 L1806.2,1210.5 L1806.2,1213.0 L1806.2,1215.4 L1806.2,1217.9 L1806.1,1220.4 L1805.9,1223.0 L1805.7,1225.5 L1805.4,1228.0 L1805.0,1230.5 L1804.4,1232.9 L1803.8,1235.4 L1803.1,1237.8 L1802.4,1240.1 L1801.6,1242.5 L1800.7,1244.8 L1799.9,1247.1 L1799.0,1249.3 L1798.2,1251.6 L1797.3,1253.8 L1796.5,1256.0 L1795.7,1258.2 L1794.9,1260.3 L1794.1,1262.3 L1793.3,1264.4 L1792.5,1266.4 L1791.7,1268.4 L1791.0,1270.4 L1790.2,1272.5 L1789.4,1274.5 L1788.6,1276.5 L1787.9,1278.6 L1787.1,1280.6 L1786.3,1282.7 L1785.5,1284.7 L1784.8,1286.8 L1784.0,1288.9 L1783.2,1291.1 L1782.4,1293.3 L1781.7,1295.6 L1780.9,1298.0 L1780.2,1300.4 L1779.4,1302.8 L1778.7,1305.2 L1778.0,1307.6 L1777.4,1310.0 L1776.8,1312.4 L1776.2,1315.2 L1775.6,1318.1 L1775.0,1321.0" stroke-width="4.2"/>
<path d="M1765.0,1240.0 L1764.3,1355.7 L1905.7,1265.7" stroke-width="3.8"/>
<path d="M1212.2,925.3 L1214.2,925.2 L1216.2,925.1 L1218.2,925.1 L1220.3,925.0 L1222.3,924.8 L1224.3,924.7 L1226.3,924.6 L1228.4,924.5 L1230.4,924.4 L1232.4,924.2 L1234.5,924.1 L1236.5,923.9 L1238.5,923.8 L1240.6,923.7 L1242.6,923.5 L1244.6,923.4 L1246.7,923.2 L1248.7,923.1 L1250.8,922.9 L1252.8,922.8 L1254.8,922.6 L1256.9,922.5 L1258.9,922.4 L1260.9,922.2 L1263.0,922.1 L1265.0,922.0 L1267.0,921.8 L1269.1,921.7 L1271.1,921.6 L1273.1,921.5 L1275.2,921.4 L1277.3,921.3 L1279.5,921.3 L1281.7,921.2 L1284.0,921.1 L1286.5,921.1 L1289.0,921.1 L1291.6,921.1 L1294.4,921.1 L1297.2,921.2 L1300.0,921.3 L1302.8,921.4 L1305.5,921.5 L1308.2,921.7 L1310.9,921.8 L1313.4,922.0 L1315.8,922.3 L1318.2,922.5 L1320.4,922.7 L1322.6,923.0 L1324.8,923.2 L1326.9,923.5 L1329.0,923.8 L1331.0,924.1 L1333.1,924.4 L1335.2,924.7 L1337.2,925.0 L1339.3,925.3 L1341.3,925.7 L1343.4,926.0 L1345.4,926.4 L1347.4,926.7 L1349.5,927.1 L1351.5,927.5 L1353.5,928.0 L1355.5,928.4 L1357.5,928.8 L1359.5,929.3 L1361.5,929.7 L1363.5,930.2 L1365.5,930.7 L1367.5,931.3 L1369.5,931.8 L1371.6,932.4 L1373.8,933.0 L1376.0,933.7 L1378.3,934.5 L1380.7,935.3 L1383.2,936.1 L1385.8,937.0 L1388.3,938.0 L1390.9,939.0 L1393.5,940.0 L1396.0,941.1 L1398.4,942.1 L1400.6,943.2 L1402.8,944.2 L1404.9,945.2 L1406.9,946.2 L1408.8,947.3 L1410.6,948.3 L1412.4,949.3 L1414.2,950.3 L1415.9,951.4 L1417.6,952.5 L1419.3,953.6 L1420.9,954.7 L1422.6,955.8 L1424.3,956.9 L1425.9,958.1 L1427.5,959.3 L1429.1,960.5 L1430.8,961.7 L1432.4,962.9 L1433.9,964.1 L1435.5,965.4 L1437.1,966.6 L1438.7,967.9 L1440.2,969.1 L1441.8,970.4 L1443.3,971.7 L1444.8,973.0 L1446.4,974.3 L1447.9,975.6 L1449.4,976.9 L1451.0,978.2 L1452.5,979.6 L1454.0,980.9 L1455.6,982.3 L1457.2,983.7 L1458.8,985.2 L1460.5,986.7 L1462.2,988.2 L1463.9,989.8 L1465.6,991.4 L1467.3,993.0 L1469.0,994.5 L1470.6,996.1 L1472.2,997.6 L1473.7,999.1 L1475.2,1000.6 L1476.6,1002.0 L1478.1,1003.5 L1479.5,1005.0 L1480.9,1006.4 L1482.3,1007.9 L1483.6,1009.3 L1485.0,1010.8 L1486.4,1012.3 L1487.8,1013.8 L1489.1,1015.3 L1490.5,1016.8 L1491.8,1018.3 L1493.2,1019.8 L1494.5,1021.3 L1495.9,1022.8 L1497.3,1024.4 L1498.7,1026.0 L1500.2,1027.7 L1501.8,1029.4 L1503.4,1031.3 L1505.0,1033.1 L1506.7,1035.1 L1508.4,1037.0 L1510.1,1039.0 L1511.9,1040.9 L1513.5,1042.8 L1515.1,1044.6 L1516.7,1046.4 L1518.2,1048.1 L1519.6,1049.7 L1521.0,1051.3 L1522.4,1052.9 L1523.7,1054.5 L1525.1,1056.1 L1526.4,1057.6 L1527.7,1059.2 L1529.1,1060.7 L1530.4,1062.3 L1531.7,1063.8 L1533.0,1065.4 L1534.3,1066.9 L1535.6,1068.5 L1537.0,1070.1 L1538.3,1071.7 L1539.7,1073.4 L1541.2,1075.1 L1542.6,1076.9 L1544.2,1078.8 L1545.8,1080.8 L1547.5,1082.8 L1549.2,1084.9 L1550.9,1087.0 L1552.7,1089.2 L1554.4,1091.3 L1556.1,1093.4 L1557.8,1095.5 L1559.4,1097.4 L1560.9,1099.4 L1562.4,1101.2 L1563.9,1103.0 L1565.3,1104.8 L1566.7,1106.5 L1568.0,1108.1 L1569.3,1109.8 L1570.7,1111.5 L1572.0,1113.1 L1573.3,1114.7 L1574.6,1116.4 L1575.9,1118.0 L1577.2,1119.7 L1578.5,1121.3 L1579.8,1123.1 L1581.2,1124.9 L1582.6,1126.7 L1584.0,1128.6 L1585.5,1130.6 L1587.1,1132.6 L1588.6,1134.7 L1590.1,1136.8 L1591.6,1138.8 L1593.0,1140.8 L1594.5,1142.8 L1595.8,1144.8 L1597.2,1146.7 L1598.5,1148.6 L1599.9,1150.5 L1601.2,1152.5 L1602.6,1154.5 L1604.0,1156.7 L1605.4,1158.9 L1606.8,1161.2 L1608.2,1163.5 L1609.6,1165.8 L1610.9,1168.2 L1612.1,1170.6 L1613.3,1173.0 L1614.4,1175.4 L1615.5,1177.7 L1616.4,1180.0 L1617.3,1182.2 L1618.2,1184.4 L1618.9,1186.6 L1619.7,1188.7 L1620.3,1190.8 L1621.0,1192.9 L1621.6,1194.9 L1622.1,1196.9 L1622.7,1198.9 L1623.2,1200.9 L1623.7,1203.0 L1624.2,1205.0 L1624.7,1207.1 L1625.1,1209.2 L1625.6,1211.3 L1626.0,1213.5 L1626.4,1215.7 L1626.8,1217.9 L1627.2,1220.1 L1627.5,1222.4 L1627.8,1224.5 L1628.1,1226.7 L1628.4,1228.8 L1628.6,1230.9 L1628.8,1233.0 L1628.9,1235.0 L1629.1,1237.1 L1629.2,1239.1 L1629.3,1241.1 L1629.3,1243.1 L1629.4,1245.1 L1629.4,1247.1 L1629.5,1249.1 L1629.5,1251.2 L1629.6,1253.2 L1629.6,1255.2 L1629.7,1257.2 L1629.7,1259.3 L1629.7,1261.3 L1629.8,1263.3 L1629.8,1265.4 L1629.9,1267.4 L1629.9,1269.5 L1629.9,1271.5 L1630.0,1273.6 L1630.0,1275.6 L1630.0,1277.7 L1630.0,1279.8 L1630.0,1281.9 L1630.0,1283.9 L1630.0,1286.1 L1629.9,1288.2 L1629.9,1290.4 L1629.9,1292.6 L1629.8,1294.8 L1629.7,1297.1 L1629.6,1299.4 L1629.5,1301.6 L1629.4,1303.9 L1629.3,1306.2 L1629.1,1308.6 L1629.0,1311.0 L1628.8,1313.4 L1628.6,1315.9 L1628.4,1318.4 L1628.1,1321.2 L1627.9,1324.1 L1627.6,1327.0 L1627.3,1330.0 L1627.1,1332.8 L1627.0,1334.0" stroke-width="4.2"/>
<path d="M1552.9,1245.7 L1634.3,1347.0" stroke-width="3.6"/>
<path d="M1634.3,1347.0 C1645.5,1328.0 1656.5,1308.8 1668.0,1290.0 C1681.6,1267.8 1696.0,1246.2 1710.0,1224.3" stroke-width="4.0"/>
<path d="M591.0,1251.0 L589.3,1250.0 L587.3,1248.8 L584.9,1247.3 L582.3,1245.9 L579.8,1244.4 L577.2,1243.0 L574.7,1241.5 L572.1,1240.1 L569.6,1238.6 L567.1,1237.2 L564.5,1235.7 L562.1,1234.3 L559.6,1232.9 L557.3,1231.5 L555.0,1230.2 L552.8,1228.9 L550.7,1227.6 L548.6,1226.4 L546.7,1225.2 L544.8,1224.0 L543.0,1222.9 L541.2,1221.7 L539.4,1220.6 L537.7,1219.4 L535.9,1218.2 L534.1,1216.9 L532.2,1215.7 L530.4,1214.3 L528.5,1212.9 L526.5,1211.5 L524.5,1210.0 L522.4,1208.4 L520.3,1206.8 L518.2,1205.2 L516.1,1203.5 L514.0,1201.8 L511.9,1200.1 L509.9,1198.5 L508.0,1196.9 L506.1,1195.4 L504.3,1193.9 L502.6,1192.4 L500.9,1191.0 L499.3,1189.7 L497.7,1188.3 L496.1,1186.9 L494.6,1185.6 L493.0,1184.2 L491.5,1182.8 L489.9,1181.5 L488.3,1180.1 L486.8,1178.7 L485.2,1177.3 L483.6,1175.9 L482.1,1174.5 L480.5,1173.1 L479.0,1171.7 L477.4,1170.2 L475.9,1168.8 L474.3,1167.4 L472.8,1166.0 L471.2,1164.5 L469.7,1163.1 L468.2,1161.7 L466.6,1160.3 L465.1,1158.8 L463.6,1157.4 L462.1,1156.0 L460.6,1154.6 L459.1,1153.1 L457.5,1151.6 L455.9,1150.1 L454.3,1148.6 L452.6,1147.0 L450.9,1145.3 L449.1,1143.5 L447.3,1141.7 L445.4,1139.9 L443.5,1138.1 L441.6,1136.2 L439.8,1134.4 L438.0,1132.6 L436.2,1130.9 L434.6,1129.2 L433.0,1127.6 L431.4,1126.0 L429.9,1124.5 L428.4,1123.0 L427.0,1121.4 L425.5,1119.9 L424.0,1118.3 L422.4,1116.6 L420.8,1114.9 L419.2,1113.1 L417.5,1111.3 L415.7,1109.3 L413.9,1107.3 L412.0,1105.2 L410.1,1103.1 L408.1,1100.9 L406.2,1098.8 L404.3,1096.6 L402.3,1094.4 L400.4,1092.2 L398.5,1090.0 L396.6,1087.8 L394.7,1085.7 L392.8,1083.6 L391.0,1081.5 L389.2,1079.5 L387.5,1077.5 L385.9,1075.6 L384.2,1073.8 L382.6,1071.9 L380.9,1070.1 L379.3,1068.2 L377.6,1066.3 L375.8,1064.3 L374.0,1062.3 L372.1,1060.3 L370.2,1058.2 L368.3,1056.1 L366.4,1054.0 L364.4,1051.8 L362.5,1049.7 L360.5,1047.6 L358.6,1045.4 L356.6,1043.3 L354.7,1041.1 L352.7,1039.0 L350.8,1036.8 L348.9,1034.7 L347.0,1032.6 L345.2,1030.6 L343.4,1028.6 L341.8,1026.7 L340.1,1024.8 L338.6,1023.1 L337.1,1021.4 L335.7,1019.7 L334.3,1018.1 L332.9,1016.5 L331.6,1014.9 L330.2,1013.3 L328.9,1011.6 L327.5,1010.0 L326.2,1008.4 L324.8,1006.7 L323.5,1005.0 L322.1,1003.3 L320.7,1001.6 L319.3,999.8 L317.9,998.0 L316.5,996.1 L315.0,994.2 L313.5,992.2 L311.9,990.2 L310.4,988.1 L308.8,986.0 L307.3,984.0 L305.8,981.9 L304.3,979.9 L302.9,978.0 L301.5,976.1 L300.2,974.3 L298.9,972.5 L297.6,970.8 L296.4,969.0 L295.1,967.3 L293.9,965.6 L292.7,963.9 L291.5,962.2 L290.2,960.4 L289.0,958.7 L287.8,956.9 L286.5,955.1 L285.3,953.4 L284.0,951.6 L282.8,949.8 L281.6,948.0 L280.3,946.2 L279.1,944.4 L277.8,942.6 L276.6,940.8 L275.3,939.0 L274.1,937.2 L272.9,935.3 L271.6,933.5 L270.4,931.7 L269.2,929.9 L267.9,928.1 L266.7,926.2 L265.5,924.4 L264.3,922.6 L263.1,920.8 L261.9,919.0 L260.7,917.2 L259.5,915.4 L258.3,913.6 L257.1,911.8 L256.0,910.1 L254.8,908.3 L253.7,906.5 L252.5,904.7 L251.3,903.0 L250.2,901.1 L249.0,899.3 L247.7,897.4 L246.5,895.4 L245.2,893.4 L243.8,891.3 L242.5,889.1 L241.0,886.8 L239.6,884.6 L238.2,882.3 L236.8,880.0 L235.4,877.7 L234.0,875.5 L232.6,873.3 L231.3,871.1 L230.0,869.0 L228.8,866.9 L227.5,864.9 L226.3,862.9 L225.2,860.9 L224.0,858.9 L222.8,856.9 L221.7,855.0 L220.6,853.0 L219.4,851.1 L218.3,849.1 L217.1,847.1 L216.0,845.0 L214.8,842.9 L213.6,840.6 L212.3,838.3 L211.1,836.0 L209.9,833.5 L208.7,831.1 L207.5,828.6 L206.3,826.0 L205.2,823.5 L204.1,821.0 L203.0,818.5 L202.1,816.0 L201.2,813.6 L200.3,811.2 L199.6,808.9 L198.9,806.7 L198.2,804.5 L197.6,802.4 L197.0,800.3 L196.5,798.3 L196.0,796.2 L195.6,794.2 L195.1,792.1 L194.7,790.0 L194.3,788.0 L193.9,785.9 L193.6,783.8 L193.2,781.8 L192.9,779.7 L192.5,777.6 L192.2,775.4 L191.8,773.3 L191.5,771.0 L191.1,768.7 L190.7,766.4 L190.3,763.9 L189.9,761.5 L189.5,759.0 L189.1,756.5 L188.7,754.0 L188.2,751.6 L187.8,749.2 L187.3,746.9 L186.8,744.5 L186.4,742.2 L185.9,739.8 L185.4,737.5 L184.9,735.1 L184.4,732.6 L183.8,729.9 L183.2,727.1 L182.6,724.3 L182.0,721.5 L181.4,718.6" stroke-width="4.2"/>
<path d="M128.6,804.3 C128.6,799.5 127.9,794.7 128.6,790.0 C129.3,785.2 131.3,780.6 133.0,776.0 C138.6,761.1 149.1,748.3 158.0,735.0 C165.0,724.5 172.7,714.5 180.0,704.3" stroke-width="4.4"/>
<path d="M180.0,704.3 C186.7,710.2 192.9,716.6 200.0,722.0 C212.2,731.3 226.5,737.7 240.0,745.0 C260.9,756.2 282.9,765.5 304.3,775.7" stroke-width="4.0"/>
<path d="M233.5,1339.0 L233.8,1337.0 L234.1,1335.0 L234.3,1332.9 L234.6,1330.4 L235.0,1327.7 L235.3,1324.9 L235.6,1322.3 L235.9,1319.9 L236.3,1317.4 L236.6,1315.0 L236.9,1312.7 L237.2,1310.5 L237.6,1308.3 L237.9,1306.2 L238.3,1304.1 L238.7,1302.0 L239.1,1299.9 L239.5,1297.7 L240.0,1295.5 L240.6,1293.3 L241.1,1291.0 L241.7,1288.7 L242.3,1286.5 L242.9,1284.2 L243.5,1282.1 L244.1,1279.9 L244.7,1277.9 L245.3,1275.8 L245.9,1273.8 L246.5,1271.9 L247.2,1269.9 L247.8,1267.9 L248.5,1266.0 L249.1,1264.0 L249.8,1262.1 L250.5,1260.2 L251.2,1258.2 L251.9,1256.3 L252.6,1254.3 L253.4,1252.4 L254.1,1250.4 L254.9,1248.4 L255.7,1246.4 L256.5,1244.5 L257.3,1242.5 L258.1,1240.5 L259.0,1238.6 L259.8,1236.6 L260.7,1234.7 L261.5,1232.8 L262.4,1231.0 L263.2,1229.1 L264.1,1227.3 L265.0,1225.5 L265.9,1223.6 L266.8,1221.8 L267.7,1220.0 L268.6,1218.2 L269.5,1216.4 L270.4,1214.7 L271.4,1212.9 L272.3,1211.1 L273.2,1209.3 L274.2,1207.6 L275.2,1205.8 L276.2,1204.0 L277.2,1202.1 L278.2,1200.3 L279.3,1198.3 L280.5,1196.3 L281.7,1194.2 L282.9,1192.1 L284.2,1189.8 L285.6,1187.5 L287.0,1185.1 L288.5,1182.8 L289.9,1180.4 L291.4,1178.1 L292.8,1175.8 L294.2,1173.6 L295.6,1171.4 L296.9,1169.3 L298.2,1167.3 L299.5,1165.4 L300.8,1163.4 L302.0,1161.5 L303.3,1159.6 L304.6,1157.7 L305.9,1155.7 L307.2,1153.7 L308.5,1151.6 L309.9,1149.5 L311.4,1147.3 L312.8,1145.1 L314.3,1142.9 L315.7,1140.6 L317.2,1138.3 L318.7,1136.0 L320.1,1133.8 L321.6,1131.6 L322.9,1129.5 L324.3,1127.5 L325.5,1125.5 L326.8,1123.6 L328.0,1121.8 L329.2,1120.0 L330.3,1118.2 L331.5,1116.4 L332.7,1114.7 L333.8,1112.9 L335.0,1111.1 L336.2,1109.4 L337.4,1107.6 L338.6,1105.9 L339.8,1104.1 L341.0,1102.3 L342.2,1100.6 L343.4,1098.8 L344.7,1097.1 L345.9,1095.3 L347.1,1093.6 L348.4,1091.8 L349.6,1090.1 L350.9,1088.4 L352.1,1086.6 L353.4,1084.9 L354.7,1083.2 L355.9,1081.6 L357.2,1079.9 L358.5,1078.2 L359.8,1076.6 L361.1,1074.9 L362.4,1073.3 L363.7,1071.7 L365.0,1070.0 L366.4,1068.4 L367.8,1066.7 L369.1,1065.1 L370.5,1063.5 L371.9,1061.9 L373.3,1060.3 L374.7,1058.8 L376.1,1057.2 L377.5,1055.7 L378.8,1054.2 L380.2,1052.7 L381.6,1051.3 L383.0,1049.8 L384.4,1048.3 L385.8,1046.9 L387.2,1045.4 L388.6,1044.0 L390.0,1042.5 L391.5,1041.1 L392.9,1039.7 L394.3,1038.3 L395.8,1036.9 L397.2,1035.5 L398.7,1034.1 L400.1,1032.7 L401.6,1031.3 L403.1,1029.9 L404.5,1028.6 L406.0,1027.2 L407.5,1025.8 L409.0,1024.4 L410.6,1023.0 L412.2,1021.6 L413.9,1020.1 L415.6,1018.6 L417.5,1017.0 L419.4,1015.3 L421.4,1013.6 L423.5,1011.8 L425.7,1009.9 L427.9,1008.1 L430.1,1006.2 L432.4,1004.4 L434.6,1002.6 L436.8,1000.8 L439.0,999.1 L441.0,997.4 L443.0,995.8 L445.0,994.3 L446.8,992.8 L448.6,991.4 L450.3,990.1 L452.0,988.8 L453.7,987.5 L455.3,986.2 L457.0,985.0 L458.6,983.7 L460.2,982.5 L461.9,981.2 L463.5,980.0 L465.2,978.8 L466.8,977.5 L468.5,976.3 L470.1,975.1 L471.8,973.9 L473.5,972.7 L475.1,971.5 L476.8,970.3 L478.5,969.1 L480.2,968.0 L481.9,966.8 L483.6,965.6 L485.3,964.5 L487.0,963.4 L488.7,962.2 L490.4,961.1 L492.1,960.0 L493.8,958.9 L495.6,957.8 L497.5,956.7 L499.4,955.5 L501.4,954.3 L503.5,953.1 L505.7,951.9 L508.0,950.6 L510.4,949.3 L512.9,948.0 L515.4,946.8 L517.8,945.6 L520.3,944.4 L522.7,943.3 L525.0,942.2 L527.2,941.3 L529.4,940.4 L531.5,939.6 L533.6,938.8 L535.6,938.0 L537.6,937.4 L539.6,936.7 L541.6,936.1 L543.6,935.5 L545.7,934.9 L547.7,934.3 L549.7,933.8 L551.7,933.3 L553.7,932.8 L555.8,932.3 L557.8,931.8 L559.8,931.3 L561.9,930.9 L563.9,930.4 L565.9,930.0 L568.0,929.6 L570.0,929.2 L572.0,928.8 L574.1,928.4 L576.2,928.0 L578.3,927.5 L580.5,927.1 L582.8,926.7 L585.2,926.2 L587.7,925.7 L590.2,925.2 L592.8,924.7 L595.5,924.1 L598.1,923.5 L600.7,923.0 L603.2,922.4 L605.7,921.8 L608.1,921.2 L610.4,920.6 L612.6,920.1 L614.8,919.5 L616.9,918.9 L619.0,918.4 L621.0,917.8 L623.1,917.3 L625.1,916.7 L627.2,916.1 L629.3,915.6 L631.5,915.0 L633.7,914.4 L636.1,913.7 L638.5,913.1 L641.0,912.5 L643.6,911.8 L646.3,911.2 L648.9,910.5 L651.6,909.9 L654.2,909.4 L656.7,908.8 L659.2,908.3 L661.6,907.9 L663.9,907.5 L666.1,907.1 L668.3,906.8 L670.4,906.4 L672.6,906.2 L674.7,905.9 L676.9,905.6 L679.1,905.4 L681.3,905.1 L683.5,904.9 L685.9,904.6 L688.4,904.4 L690.9,904.1 L693.4,903.9 L695.6,903.7 L697.6,903.4 L699.6,903.2" stroke-width="4.2"/>
<path d="M619.3,862.5 C632.5,865.6 646.0,867.9 659.0,871.9 C670.2,875.3 681.4,878.9 691.9,884.0 C701.9,888.9 710.9,895.7 720.4,901.5" stroke-width="4.0"/>
<path d="M720.4,901.5 C717.5,904.4 714.6,907.5 711.6,910.3 C705.5,915.9 698.0,920.1 691.9,925.7 C681.0,935.6 672.8,948.4 663.3,959.8" stroke-width="4.6"/>
<path d="M1606.8,1604.7 L1606.8,1606.7 L1606.8,1608.7 L1606.9,1611.2 L1607.0,1614.0 L1607.1,1616.9 L1607.2,1619.8 L1607.2,1622.7 L1607.3,1625.4 L1607.4,1628.1 L1607.4,1630.8 L1607.5,1633.3 L1607.5,1635.8 L1607.5,1638.1 L1607.5,1640.4 L1607.5,1642.5 L1607.4,1644.7 L1607.4,1646.8 L1607.3,1648.9 L1607.1,1651.1 L1607.0,1653.3 L1606.8,1655.6 L1606.5,1658.1 L1606.2,1660.6 L1605.9,1663.2 L1605.5,1665.8 L1605.2,1668.5 L1604.8,1671.2 L1604.3,1673.9 L1603.9,1676.5 L1603.4,1679.0 L1603.0,1681.4 L1602.5,1683.7 L1602.1,1685.9 L1601.6,1688.0 L1601.2,1690.1 L1600.7,1692.1 L1600.2,1694.1 L1599.7,1696.1 L1599.2,1698.1 L1598.7,1700.1 L1598.1,1702.2 L1597.5,1704.2 L1596.9,1706.2 L1596.3,1708.3 L1595.7,1710.5 L1595.0,1712.6 L1594.3,1714.9 L1593.5,1717.2 L1592.7,1719.6 L1591.8,1722.0 L1590.9,1724.5 L1590.0,1727.0 L1589.1,1729.4 L1588.2,1731.8 L1587.3,1734.2 L1586.4,1736.4 L1585.5,1738.6 L1584.6,1740.7 L1583.8,1742.7 L1583.0,1744.7 L1582.1,1746.6 L1581.3,1748.5 L1580.5,1750.4 L1579.6,1752.3 L1578.8,1754.2 L1577.9,1756.1 L1577.0,1758.0 L1576.2,1759.8 L1575.3,1761.7 L1574.4,1763.6 L1573.5,1765.4 L1572.6,1767.3 L1571.7,1769.2 L1570.8,1771.0 L1569.8,1773.0 L1568.9,1774.9 L1567.9,1776.9 L1566.8,1778.9 L1565.7,1781.0 L1564.6,1783.2 L1563.5,1785.3 L1562.4,1787.5 L1561.2,1789.6 L1560.1,1791.7 L1559.0,1793.7 L1557.9,1795.7 L1556.9,1797.6 L1555.9,1799.5 L1554.8,1801.3 L1553.8,1803.1 L1552.8,1804.9 L1551.7,1806.7 L1550.6,1808.6 L1549.5,1810.6 L1548.3,1812.6 L1547.0,1814.7 L1545.7,1816.8 L1544.3,1819.1 L1542.8,1821.4 L1541.3,1823.7 L1539.8,1826.1 L1538.2,1828.4 L1536.7,1830.7 L1535.2,1832.9 L1533.7,1835.0 L1532.3,1837.0 L1530.9,1838.9 L1529.6,1840.7 L1528.2,1842.5 L1526.9,1844.3 L1525.5,1846.1 L1524.0,1847.9 L1522.6,1849.8 L1521.1,1851.7 L1519.5,1853.5 L1518.0,1855.4 L1516.4,1857.3 L1514.9,1859.1 L1513.4,1860.8 L1512.0,1862.5 L1510.6,1864.1 L1509.2,1865.7 L1507.8,1867.3 L1506.5,1868.8 L1505.1,1870.3 L1503.7,1871.8 L1502.3,1873.3 L1500.9,1874.8 L1499.5,1876.2 L1498.1,1877.7 L1496.7,1879.1 L1495.2,1880.6 L1493.8,1882.0 L1492.3,1883.5 L1490.9,1884.9 L1489.4,1886.3 L1487.9,1887.7 L1486.4,1889.0 L1484.8,1890.4 L1483.3,1891.8 L1481.8,1893.1 L1480.2,1894.4 L1478.6,1895.7 L1477.0,1897.1 L1475.3,1898.4 L1473.6,1899.7 L1471.8,1901.0 L1469.9,1902.4 L1467.9,1903.8 L1465.8,1905.2 L1463.7,1906.6 L1461.4,1908.1 L1459.0,1909.5 L1456.5,1911.0 L1454.1,1912.4 L1451.5,1913.8 L1449.0,1915.2 L1446.4,1916.5 L1443.9,1917.8 L1441.5,1919.0 L1439.1,1920.1 L1436.8,1921.2 L1434.6,1922.3 L1432.5,1923.2 L1430.4,1924.2 L1428.5,1925.1 L1426.5,1925.9 L1424.6,1926.8 L1422.8,1927.6 L1420.9,1928.4 L1419.0,1929.2 L1417.2,1930.0 L1415.3,1930.9 L1413.4,1931.7 L1411.6,1932.5 L1409.7,1933.4 L1407.8,1934.2 L1405.9,1935.1 L1404.1,1936.0 L1402.2,1936.8 L1400.2,1937.8 L1398.3,1938.7 L1396.3,1939.7 L1394.2,1940.7 L1392.2,1941.7 L1390.1,1942.7 L1388.0,1943.8 L1385.9,1944.9 L1383.9,1945.9 L1381.9,1946.9 L1379.9,1948.0 L1378.0,1949.0 L1376.1,1949.9 L1374.3,1950.9 L1372.4,1951.9 L1370.6,1952.9 L1368.8,1953.8 L1366.9,1954.8 L1365.1,1955.8 L1363.3,1956.8 L1361.4,1957.8 L1359.6,1958.7 L1357.7,1959.7 L1355.9,1960.7 L1354.0,1961.7 L1352.2,1962.6 L1350.4,1963.6 L1348.5,1964.6 L1346.7,1965.5 L1344.8,1966.5 L1343.0,1967.4 L1341.1,1968.4 L1339.3,1969.3 L1337.4,1970.3 L1335.4,1971.3 L1333.4,1972.3 L1331.3,1973.3 L1329.1,1974.4 L1326.9,1975.5 L1324.5,1976.6 L1322.1,1977.7 L1319.6,1978.8 L1317.2,1979.9 L1314.7,1981.0 L1312.3,1982.0 L1309.9,1983.0 L1307.6,1983.9 L1305.4,1984.8 L1303.2,1985.7 L1301.1,1986.4 L1299.0,1987.2 L1296.9,1987.9 L1294.9,1988.6 L1292.8,1989.3 L1290.7,1989.9 L1288.6,1990.5 L1286.4,1991.2 L1284.2,1991.8 L1281.8,1992.5 L1279.3,1993.2 L1276.8,1993.8 L1274.1,1994.5 L1271.4,1995.2 L1268.7,1995.9 L1265.9,1996.7 L1263.1,1997.4 L1260.2,1998.1 L1257.4,1998.8 L1254.6,1999.5 L1251.9,2000.2 L1249.6,2000.9 L1247.7,2001.4" stroke-width="4.2"/>
<path d="M1293.6,1894.9 C1283.9,1913.0 1272.9,1930.6 1264.4,1949.2 C1253.3,1973.3 1246.3,1999.3 1237.2,2024.3" stroke-width="4.2"/>
<path d="M1237.2,2024.3 C1253.2,2025.0 1269.5,2024.3 1285.3,2026.4 C1315.4,2030.4 1343.8,2044.5 1373.0,2053.6" stroke-width="4.0"/>
<path d="M676.5,2026.7 L674.5,2026.7 L672.4,2026.7 L670.3,2026.7 L668.2,2026.7 L666.1,2026.7 L664.0,2026.7 L661.9,2026.7 L659.7,2026.7 L657.6,2026.7 L655.4,2026.7 L653.3,2026.7 L651.1,2026.7 L649.0,2026.7 L646.8,2026.7 L644.7,2026.7 L642.5,2026.7 L640.4,2026.8 L638.2,2026.8 L636.1,2026.8 L634.0,2026.8 L631.8,2026.8 L629.6,2026.8 L627.4,2026.8 L625.2,2026.8 L622.8,2026.8 L620.5,2026.8 L618.0,2026.8 L615.5,2026.8 L612.9,2026.8 L610.3,2026.8 L607.8,2026.8 L605.2,2026.8 L602.7,2026.8 L600.2,2026.8 L597.8,2026.9 L595.4,2026.9 L592.9,2026.9 L590.5,2027.0 L588.0,2027.0 L585.5,2027.0 L582.9,2027.0 L580.3,2027.0 L577.7,2026.9 L575.1,2026.8 L572.5,2026.7 L570.0,2026.5 L567.4,2026.3 L565.0,2026.1 L562.6,2025.8 L560.3,2025.5 L558.0,2025.2 L555.8,2024.9 L553.7,2024.6 L551.5,2024.2 L549.5,2023.9 L547.4,2023.5 L545.3,2023.1 L543.3,2022.7 L541.2,2022.2 L539.0,2021.8 L536.9,2021.3 L534.6,2020.8 L532.4,2020.2 L530.1,2019.6 L527.7,2019.0 L525.4,2018.3 L523.0,2017.7 L520.7,2017.0 L518.4,2016.4 L516.3,2015.7 L514.1,2015.0 L512.1,2014.4 L510.1,2013.7 L508.1,2013.1 L506.2,2012.4 L504.2,2011.8 L502.3,2011.1 L500.4,2010.4 L498.4,2009.8 L496.5,2009.1 L494.6,2008.4 L492.7,2007.7 L490.8,2007.0 L488.9,2006.4 L487.0,2005.7 L485.1,2005.0 L483.2,2004.3 L481.3,2003.6 L479.4,2002.9 L477.6,2002.3 L475.7,2001.6 L473.8,2000.9 L471.9,2000.2 L470.0,1999.5 L468.2,1998.8 L466.3,1998.0 L464.4,1997.3 L462.5,1996.6 L460.7,1995.8 L458.8,1995.0 L456.9,1994.2 L455.1,1993.4 L453.2,1992.6 L451.3,1991.7 L449.3,1990.8 L447.4,1989.9 L445.4,1988.9 L443.4,1987.9 L441.4,1986.9 L439.5,1985.8 L437.5,1984.7 L435.6,1983.7 L433.7,1982.6 L431.9,1981.5 L430.1,1980.4 L428.3,1979.3 L426.5,1978.2 L424.8,1977.1 L423.1,1976.0 L421.3,1974.9 L419.6,1973.8 L417.9,1972.7 L416.1,1971.5 L414.4,1970.4 L412.6,1969.3 L410.8,1968.1 L409.0,1967.0 L407.1,1965.8 L405.2,1964.6 L403.3,1963.5 L401.3,1962.3 L399.2,1961.1 L397.1,1959.9 L395.0,1958.7 L392.8,1957.5 L390.5,1956.3 L388.2,1955.0 L385.8,1953.7 L383.4,1952.5 L381.0,1951.2 L378.6,1949.9 L376.3,1948.7 L374.1,1947.5 L371.9,1946.3 L369.8,1945.1 L367.7,1943.9 L365.7,1942.7 L363.7,1941.5 L361.7,1940.3 L359.6,1939.0 L357.5,1937.7 L355.4,1936.4 L353.2,1935.0 L351.1,1933.6 L349.0,1932.3 L346.9,1930.9 L344.9,1929.6 L343.0,1928.4 L341.1,1927.1 L339.3,1925.9 L337.6,1924.7 L335.8,1923.5 L334.1,1922.3 L332.3,1921.1 L330.6,1919.9 L328.9,1918.7 L327.2,1917.5 L325.5,1916.3 L323.7,1915.1 L322.0,1913.8 L320.3,1912.6 L318.6,1911.3 L316.9,1910.1 L315.2,1908.8 L313.6,1907.6 L311.9,1906.3 L310.2,1905.0 L308.6,1903.7 L306.9,1902.4 L305.3,1901.1 L303.6,1899.8 L301.9,1898.4 L300.3,1897.1 L298.6,1895.7 L297.0,1894.3 L295.3,1892.9 L293.7,1891.5 L292.1,1890.1 L290.5,1888.7 L289.0,1887.3 L287.4,1885.9 L285.9,1884.5 L284.4,1883.2 L282.9,1881.8 L281.4,1880.3 L279.9,1878.9 L278.4,1877.5 L276.9,1876.1 L275.4,1874.7 L273.9,1873.2 L272.5,1871.8 L271.1,1870.3 L269.6,1868.9 L268.2,1867.4 L266.7,1865.9 L265.3,1864.4 L263.8,1862.8 L262.3,1861.2 L260.7,1859.5 L259.1,1857.7 L257.4,1855.8 L255.7,1853.9 L254.0,1851.9 L252.3,1849.9 L250.7,1848.0 L249.1,1846.0 L247.5,1844.1 L246.1,1842.3 L244.7,1840.5 L243.3,1838.8 L242.0,1837.1 L240.8,1835.4 L239.5,1833.7 L238.2,1831.9 L236.9,1830.1 L235.6,1828.2 L234.2,1826.2 L232.8,1824.0 L231.3,1821.8 L229.9,1819.6 L228.4,1817.3 L226.9,1814.9 L225.5,1812.6 L224.1,1810.4 L222.8,1808.2 L221.5,1806.0 L220.3,1804.0 L219.1,1801.9 L217.9,1799.9 L216.8,1797.9 L215.7,1795.9 L214.6,1794.0 L213.5,1792.0 L212.5,1790.0 L211.4,1788.1 L210.4,1786.2 L209.4,1784.3 L208.5,1782.4 L207.5,1780.5 L206.6,1778.7 L205.7,1776.8 L204.8,1775.0 L203.9,1773.1 L203.0,1771.3 L202.1,1769.4 L201.3,1767.5 L200.4,1765.7 L199.6,1763.8 L198.7,1761.9 L197.9,1759.9 L197.0,1757.9 L196.2,1755.8 L195.3,1753.7 L194.4,1751.5 L193.5,1749.2 L192.6,1746.8 L191.7,1744.5 L190.9,1742.1 L190.0,1739.8 L189.2,1737.5 L188.5,1735.3 L187.8,1733.1 L187.1,1731.0 L186.4,1728.9 L185.8,1726.8 L185.2,1724.8 L184.7,1722.8 L184.1,1720.8 L183.6,1718.8 L183.0,1716.8 L182.5,1714.7 L182.1,1712.6 L181.6,1710.5 L181.1,1708.3 L180.7,1706.0 L180.2,1703.7 L179.8,1701.3 L179.4,1698.8 L179.1,1696.3 L178.7,1693.9 L178.5,1691.4 L178.2,1689.0 L178.1,1686.7 L177.9,1684.5 L177.9,1682.3 L177.8,1680.2 L177.8,1678.0 L177.9,1675.8 L178.0,1673.6 L178.1,1671.2 L178.2,1668.8 L178.4,1666.4 L178.5,1663.9 L178.8,1661.2 L179.0,1658.3 L179.2,1655.3 L179.5,1652.5 L179.6,1650.2 L179.7,1648.2" stroke-width="4.2"/>
<path d="M133.2,1735.7 C133.3,1726.7 131.3,1717.2 133.5,1708.6 C135.0,1702.4 138.4,1696.6 141.3,1690.8 C147.1,1679.4 155.5,1669.4 162.2,1658.5 C167.8,1649.5 173.0,1640.4 178.4,1631.3" stroke-width="4.4"/>
<path d="M178.4,1631.3 C179.9,1636.2 180.4,1641.8 183.0,1646.0 C185.5,1650.1 189.9,1653.1 193.5,1656.4 C200.1,1662.4 207.5,1667.4 214.4,1673.0 C221.5,1678.8 229.0,1684.2 235.3,1690.8 C239.4,1695.1 242.9,1699.9 246.7,1704.4" stroke-width="4.2"/>
</g>
<g style="font-family:&quot;Liberation Sans&quot;,sans-serif" fill="#000" stroke="#000" stroke-width="0.3" text-anchor="middle">
<text x="936" y="103" font-size="40.5">More Public Goods</text>
<text x="941.6" y="162" font-size="32">PoH, ENS, Klima</text>
<text x="196" y="539.5" font-size="40.5">Projects building</text>
<text x="196.7" y="584.6" font-size="40.5">Public Goods</text>
<text x="189" y="640.7" font-size="23">OSS, Education, Advocacy</text>
<text x="955.7" y="888.4" font-size="40.5">Support for Public Goods</text>
<text x="949" y="976.4" font-size="32">Mindshare, funding, tools,</text>
<text x="953.7" y="1012.7" font-size="32">infrastructure, financial support</text>
<text x="937.5" y="1436" font-size="77.5">Funding Mechanisms</text>
<text x="947.5" y="1532" font-size="35.5">QF, Pooled Funds,</text>
<text x="952.5" y="1572" font-size="35.5">Tokens on Bonding Curves, Badgeholders</text>
<text x="233" y="1446.3" font-size="40.5">More Contributors</text>
<text x="227" y="1534.6" font-size="32">Willing and able to</text>
<text x="230.7" y="1570.2" font-size="32">grow Public Goods ecosystem</text>
<text x="1653.5" y="1436.7" font-size="40.5">Positive Externalities</text>
<text x="1651.4" y="1514.5" font-size="32">Coordination, Accessibility,</text>
<text x="1657" y="1550" font-size="32">Earth doesn&#39;t catch fire</text>
<text x="947" y="1975.4" font-size="40.5">Improve Societal Value</text>
<text x="945" y="2052.5" font-size="32">Working conditions, mental health,</text>
<text x="949.7" y="2087.6" font-size="32">shared spaces</text>
</g>
</svg></body></html>
